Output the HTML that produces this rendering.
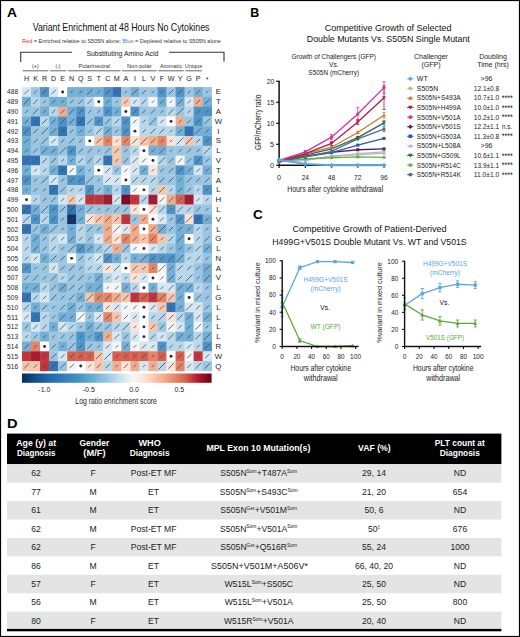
<!DOCTYPE html>
<html><head><meta charset="utf-8"><title>Figure</title>
<style>html,body{margin:0;padding:0;background:#fff;}svg{display:block;}</style></head>
<body><svg width="520" height="637" viewBox="0 0 520 637" font-family='"Liberation Sans", sans-serif'><rect x="0" y="0" width="520" height="637" fill="#fff"/>
<text x="7.0" y="16.9" font-size="13" font-weight="bold" textLength="10.0" lengthAdjust="spacingAndGlyphs" fill="#000">A</text>
<text x="250.3" y="17.3" font-size="12.2" font-weight="bold" textLength="9.0" lengthAdjust="spacingAndGlyphs" fill="#000">B</text>
<text x="253.0" y="219.0" font-size="12.2" font-weight="bold" textLength="9.8" lengthAdjust="spacingAndGlyphs" fill="#000">C</text>
<text x="7.0" y="428.4" font-size="12.2" font-weight="bold" textLength="10.6" lengthAdjust="spacingAndGlyphs" fill="#000">D</text>
<g>
<rect x="22.00" y="87.10" width="9.33" height="10.09" fill="#d6e7f2"/>
<rect x="31.03" y="87.10" width="9.33" height="10.09" fill="#9ac6e1"/>
<rect x="40.07" y="87.10" width="9.33" height="10.09" fill="#4f93c7"/>
<rect x="49.10" y="87.10" width="9.33" height="10.09" fill="#d6e7f2"/>
<rect x="58.13" y="87.10" width="9.33" height="10.09" fill="#ffffff"/>
<rect x="67.16" y="87.10" width="9.33" height="10.09" fill="#74afd6"/>
<rect x="76.20" y="87.10" width="9.33" height="10.09" fill="#74afd6"/>
<rect x="85.23" y="87.10" width="9.33" height="10.09" fill="#74afd6"/>
<rect x="94.26" y="87.10" width="9.33" height="10.09" fill="#74afd6"/>
<rect x="103.30" y="87.10" width="9.33" height="10.09" fill="#4f93c7"/>
<rect x="112.33" y="87.10" width="9.33" height="10.09" fill="#3474b5"/>
<rect x="121.36" y="87.10" width="9.33" height="10.09" fill="#9ac6e1"/>
<rect x="130.40" y="87.10" width="9.33" height="10.09" fill="#74afd6"/>
<rect x="139.43" y="87.10" width="9.33" height="10.09" fill="#9ac6e1"/>
<rect x="148.46" y="87.10" width="9.33" height="10.09" fill="#9ac6e1"/>
<rect x="157.50" y="87.10" width="9.33" height="10.09" fill="#4f93c7"/>
<rect x="166.53" y="87.10" width="9.33" height="10.09" fill="#9ac6e1"/>
<rect x="175.56" y="87.10" width="9.33" height="10.09" fill="#4f93c7"/>
<rect x="184.59" y="87.10" width="9.33" height="10.09" fill="#9ac6e1"/>
<rect x="193.63" y="87.10" width="9.33" height="10.09" fill="#74afd6"/>
<rect x="202.66" y="87.10" width="9.33" height="10.09" fill="#9ac6e1"/>
<rect x="22.00" y="96.89" width="9.33" height="10.09" fill="#74afd6"/>
<rect x="31.03" y="96.89" width="9.33" height="10.09" fill="#b9d7ea"/>
<rect x="40.07" y="96.89" width="9.33" height="10.09" fill="#9ac6e1"/>
<rect x="49.10" y="96.89" width="9.33" height="10.09" fill="#74afd6"/>
<rect x="58.13" y="96.89" width="9.33" height="10.09" fill="#74afd6"/>
<rect x="67.16" y="96.89" width="9.33" height="10.09" fill="#9ac6e1"/>
<rect x="76.20" y="96.89" width="9.33" height="10.09" fill="#9ac6e1"/>
<rect x="85.23" y="96.89" width="9.33" height="10.09" fill="#b9d7ea"/>
<rect x="94.26" y="96.89" width="9.33" height="10.09" fill="#ffffff"/>
<rect x="103.30" y="96.89" width="9.33" height="10.09" fill="#74afd6"/>
<rect x="112.33" y="96.89" width="9.33" height="10.09" fill="#9ac6e1"/>
<rect x="121.36" y="96.89" width="9.33" height="10.09" fill="#f5c6ae"/>
<rect x="130.40" y="96.89" width="9.33" height="10.09" fill="#d6e7f2"/>
<rect x="139.43" y="96.89" width="9.33" height="10.09" fill="#b9d7ea"/>
<rect x="148.46" y="96.89" width="9.33" height="10.09" fill="#f3f5f6"/>
<rect x="157.50" y="96.89" width="9.33" height="10.09" fill="#74afd6"/>
<rect x="166.53" y="96.89" width="9.33" height="10.09" fill="#f3f5f6"/>
<rect x="175.56" y="96.89" width="9.33" height="10.09" fill="#74afd6"/>
<rect x="184.59" y="96.89" width="9.33" height="10.09" fill="#d6e7f2"/>
<rect x="193.63" y="96.89" width="9.33" height="10.09" fill="#f0ad8e"/>
<rect x="202.66" y="96.89" width="9.33" height="10.09" fill="#74afd6"/>
<rect x="22.00" y="106.67" width="9.33" height="10.09" fill="#9ac6e1"/>
<rect x="31.03" y="106.67" width="9.33" height="10.09" fill="#9ac6e1"/>
<rect x="40.07" y="106.67" width="9.33" height="10.09" fill="#74afd6"/>
<rect x="49.10" y="106.67" width="9.33" height="10.09" fill="#b9d7ea"/>
<rect x="58.13" y="106.67" width="9.33" height="10.09" fill="#f0ad8e"/>
<rect x="67.16" y="106.67" width="9.33" height="10.09" fill="#74afd6"/>
<rect x="76.20" y="106.67" width="9.33" height="10.09" fill="#4f93c7"/>
<rect x="85.23" y="106.67" width="9.33" height="10.09" fill="#9ac6e1"/>
<rect x="94.26" y="106.67" width="9.33" height="10.09" fill="#9ac6e1"/>
<rect x="103.30" y="106.67" width="9.33" height="10.09" fill="#4f93c7"/>
<rect x="112.33" y="106.67" width="9.33" height="10.09" fill="#74afd6"/>
<rect x="121.36" y="106.67" width="9.33" height="10.09" fill="#ffffff"/>
<rect x="130.40" y="106.67" width="9.33" height="10.09" fill="#4f93c7"/>
<rect x="139.43" y="106.67" width="9.33" height="10.09" fill="#9ac6e1"/>
<rect x="148.46" y="106.67" width="9.33" height="10.09" fill="#9ac6e1"/>
<rect x="157.50" y="106.67" width="9.33" height="10.09" fill="#9ac6e1"/>
<rect x="166.53" y="106.67" width="9.33" height="10.09" fill="#b9d7ea"/>
<rect x="175.56" y="106.67" width="9.33" height="10.09" fill="#9ac6e1"/>
<rect x="184.59" y="106.67" width="9.33" height="10.09" fill="#b9d7ea"/>
<rect x="193.63" y="106.67" width="9.33" height="10.09" fill="#4f93c7"/>
<rect x="202.66" y="106.67" width="9.33" height="10.09" fill="#4f93c7"/>
<rect x="22.00" y="116.46" width="9.33" height="10.09" fill="#74afd6"/>
<rect x="31.03" y="116.46" width="9.33" height="10.09" fill="#3474b5"/>
<rect x="40.07" y="116.46" width="9.33" height="10.09" fill="#b9d7ea"/>
<rect x="49.10" y="116.46" width="9.33" height="10.09" fill="#74afd6"/>
<rect x="58.13" y="116.46" width="9.33" height="10.09" fill="#4f93c7"/>
<rect x="67.16" y="116.46" width="9.33" height="10.09" fill="#74afd6"/>
<rect x="76.20" y="116.46" width="9.33" height="10.09" fill="#3474b5"/>
<rect x="85.23" y="116.46" width="9.33" height="10.09" fill="#9ac6e1"/>
<rect x="94.26" y="116.46" width="9.33" height="10.09" fill="#4f93c7"/>
<rect x="103.30" y="116.46" width="9.33" height="10.09" fill="#9ac6e1"/>
<rect x="112.33" y="116.46" width="9.33" height="10.09" fill="#b9d7ea"/>
<rect x="121.36" y="116.46" width="9.33" height="10.09" fill="#4f93c7"/>
<rect x="130.40" y="116.46" width="9.33" height="10.09" fill="#f3f5f6"/>
<rect x="139.43" y="116.46" width="9.33" height="10.09" fill="#b9d7ea"/>
<rect x="148.46" y="116.46" width="9.33" height="10.09" fill="#9ac6e1"/>
<rect x="157.50" y="116.46" width="9.33" height="10.09" fill="#d6e7f2"/>
<rect x="166.53" y="116.46" width="9.33" height="10.09" fill="#ffffff"/>
<rect x="175.56" y="116.46" width="9.33" height="10.09" fill="#f0ad8e"/>
<rect x="184.59" y="116.46" width="9.33" height="10.09" fill="#9ac6e1"/>
<rect x="193.63" y="116.46" width="9.33" height="10.09" fill="#4f93c7"/>
<rect x="202.66" y="116.46" width="9.33" height="10.09" fill="#9ac6e1"/>
<rect x="22.00" y="126.24" width="9.33" height="10.09" fill="#4f93c7"/>
<rect x="31.03" y="126.24" width="9.33" height="10.09" fill="#9ac6e1"/>
<rect x="40.07" y="126.24" width="9.33" height="10.09" fill="#9ac6e1"/>
<rect x="49.10" y="126.24" width="9.33" height="10.09" fill="#74afd6"/>
<rect x="58.13" y="126.24" width="9.33" height="10.09" fill="#3474b5"/>
<rect x="67.16" y="126.24" width="9.33" height="10.09" fill="#9ac6e1"/>
<rect x="76.20" y="126.24" width="9.33" height="10.09" fill="#74afd6"/>
<rect x="85.23" y="126.24" width="9.33" height="10.09" fill="#9ac6e1"/>
<rect x="94.26" y="126.24" width="9.33" height="10.09" fill="#b9d7ea"/>
<rect x="103.30" y="126.24" width="9.33" height="10.09" fill="#74afd6"/>
<rect x="112.33" y="126.24" width="9.33" height="10.09" fill="#9ac6e1"/>
<rect x="121.36" y="126.24" width="9.33" height="10.09" fill="#4f93c7"/>
<rect x="130.40" y="126.24" width="9.33" height="10.09" fill="#ffffff"/>
<rect x="139.43" y="126.24" width="9.33" height="10.09" fill="#b9d7ea"/>
<rect x="148.46" y="126.24" width="9.33" height="10.09" fill="#b9d7ea"/>
<rect x="157.50" y="126.24" width="9.33" height="10.09" fill="#b9d7ea"/>
<rect x="166.53" y="126.24" width="9.33" height="10.09" fill="#b9d7ea"/>
<rect x="175.56" y="126.24" width="9.33" height="10.09" fill="#74afd6"/>
<rect x="184.59" y="126.24" width="9.33" height="10.09" fill="#3474b5"/>
<rect x="193.63" y="126.24" width="9.33" height="10.09" fill="#74afd6"/>
<rect x="202.66" y="126.24" width="9.33" height="10.09" fill="#74afd6"/>
<rect x="22.00" y="136.03" width="9.33" height="10.09" fill="#74afd6"/>
<rect x="31.03" y="136.03" width="9.33" height="10.09" fill="#9ac6e1"/>
<rect x="40.07" y="136.03" width="9.33" height="10.09" fill="#9ac6e1"/>
<rect x="49.10" y="136.03" width="9.33" height="10.09" fill="#d6e7f2"/>
<rect x="58.13" y="136.03" width="9.33" height="10.09" fill="#9ac6e1"/>
<rect x="67.16" y="136.03" width="9.33" height="10.09" fill="#9ac6e1"/>
<rect x="76.20" y="136.03" width="9.33" height="10.09" fill="#9ac6e1"/>
<rect x="85.23" y="136.03" width="9.33" height="10.09" fill="#ffffff"/>
<rect x="94.26" y="136.03" width="9.33" height="10.09" fill="#f5c6ae"/>
<rect x="103.30" y="136.03" width="9.33" height="10.09" fill="#e48468"/>
<rect x="112.33" y="136.03" width="9.33" height="10.09" fill="#fbe3d7"/>
<rect x="121.36" y="136.03" width="9.33" height="10.09" fill="#e48468"/>
<rect x="130.40" y="136.03" width="9.33" height="10.09" fill="#fbe3d7"/>
<rect x="139.43" y="136.03" width="9.33" height="10.09" fill="#f5c6ae"/>
<rect x="148.46" y="136.03" width="9.33" height="10.09" fill="#f0ad8e"/>
<rect x="157.50" y="136.03" width="9.33" height="10.09" fill="#e48468"/>
<rect x="166.53" y="136.03" width="9.33" height="10.09" fill="#fbe3d7"/>
<rect x="175.56" y="136.03" width="9.33" height="10.09" fill="#d6e7f2"/>
<rect x="184.59" y="136.03" width="9.33" height="10.09" fill="#f5c6ae"/>
<rect x="193.63" y="136.03" width="9.33" height="10.09" fill="#b9d7ea"/>
<rect x="202.66" y="136.03" width="9.33" height="10.09" fill="#4f93c7"/>
<rect x="22.00" y="145.82" width="9.33" height="10.09" fill="#74afd6"/>
<rect x="31.03" y="145.82" width="9.33" height="10.09" fill="#9ac6e1"/>
<rect x="40.07" y="145.82" width="9.33" height="10.09" fill="#74afd6"/>
<rect x="49.10" y="145.82" width="9.33" height="10.09" fill="#74afd6"/>
<rect x="58.13" y="145.82" width="9.33" height="10.09" fill="#9ac6e1"/>
<rect x="67.16" y="145.82" width="9.33" height="10.09" fill="#4f93c7"/>
<rect x="76.20" y="145.82" width="9.33" height="10.09" fill="#9ac6e1"/>
<rect x="85.23" y="145.82" width="9.33" height="10.09" fill="#9ac6e1"/>
<rect x="94.26" y="145.82" width="9.33" height="10.09" fill="#9ac6e1"/>
<rect x="103.30" y="145.82" width="9.33" height="10.09" fill="#9ac6e1"/>
<rect x="112.33" y="145.82" width="9.33" height="10.09" fill="#f5c6ae"/>
<rect x="121.36" y="145.82" width="9.33" height="10.09" fill="#9ac6e1"/>
<rect x="130.40" y="145.82" width="9.33" height="10.09" fill="#b9d7ea"/>
<rect x="139.43" y="145.82" width="9.33" height="10.09" fill="#ffffff"/>
<rect x="148.46" y="145.82" width="9.33" height="10.09" fill="#74afd6"/>
<rect x="157.50" y="145.82" width="9.33" height="10.09" fill="#74afd6"/>
<rect x="166.53" y="145.82" width="9.33" height="10.09" fill="#9ac6e1"/>
<rect x="175.56" y="145.82" width="9.33" height="10.09" fill="#9ac6e1"/>
<rect x="184.59" y="145.82" width="9.33" height="10.09" fill="#9ac6e1"/>
<rect x="193.63" y="145.82" width="9.33" height="10.09" fill="#9ac6e1"/>
<rect x="202.66" y="145.82" width="9.33" height="10.09" fill="#b9d7ea"/>
<rect x="22.00" y="155.60" width="9.33" height="10.09" fill="#3474b5"/>
<rect x="31.03" y="155.60" width="9.33" height="10.09" fill="#3474b5"/>
<rect x="40.07" y="155.60" width="9.33" height="10.09" fill="#b9d7ea"/>
<rect x="49.10" y="155.60" width="9.33" height="10.09" fill="#9ac6e1"/>
<rect x="58.13" y="155.60" width="9.33" height="10.09" fill="#b9d7ea"/>
<rect x="67.16" y="155.60" width="9.33" height="10.09" fill="#74afd6"/>
<rect x="76.20" y="155.60" width="9.33" height="10.09" fill="#b9d7ea"/>
<rect x="85.23" y="155.60" width="9.33" height="10.09" fill="#9ac6e1"/>
<rect x="94.26" y="155.60" width="9.33" height="10.09" fill="#b9d7ea"/>
<rect x="103.30" y="155.60" width="9.33" height="10.09" fill="#3474b5"/>
<rect x="112.33" y="155.60" width="9.33" height="10.09" fill="#f5c6ae"/>
<rect x="121.36" y="155.60" width="9.33" height="10.09" fill="#9ac6e1"/>
<rect x="130.40" y="155.60" width="9.33" height="10.09" fill="#d6e7f2"/>
<rect x="139.43" y="155.60" width="9.33" height="10.09" fill="#f3f5f6"/>
<rect x="148.46" y="155.60" width="9.33" height="10.09" fill="#ffffff"/>
<rect x="157.50" y="155.60" width="9.33" height="10.09" fill="#b9d7ea"/>
<rect x="166.53" y="155.60" width="9.33" height="10.09" fill="#9ac6e1"/>
<rect x="175.56" y="155.60" width="9.33" height="10.09" fill="#f3f5f6"/>
<rect x="184.59" y="155.60" width="9.33" height="10.09" fill="#9ac6e1"/>
<rect x="193.63" y="155.60" width="9.33" height="10.09" fill="#4f93c7"/>
<rect x="202.66" y="155.60" width="9.33" height="10.09" fill="#9ac6e1"/>
<rect x="22.00" y="165.39" width="9.33" height="10.09" fill="#74afd6"/>
<rect x="31.03" y="165.39" width="9.33" height="10.09" fill="#d6e7f2"/>
<rect x="40.07" y="165.39" width="9.33" height="10.09" fill="#b9d7ea"/>
<rect x="49.10" y="165.39" width="9.33" height="10.09" fill="#74afd6"/>
<rect x="58.13" y="165.39" width="9.33" height="10.09" fill="#3474b5"/>
<rect x="67.16" y="165.39" width="9.33" height="10.09" fill="#f3f5f6"/>
<rect x="76.20" y="165.39" width="9.33" height="10.09" fill="#74afd6"/>
<rect x="85.23" y="165.39" width="9.33" height="10.09" fill="#9ac6e1"/>
<rect x="94.26" y="165.39" width="9.33" height="10.09" fill="#ffffff"/>
<rect x="103.30" y="165.39" width="9.33" height="10.09" fill="#d6e7f2"/>
<rect x="112.33" y="165.39" width="9.33" height="10.09" fill="#9ac6e1"/>
<rect x="121.36" y="165.39" width="9.33" height="10.09" fill="#f3f5f6"/>
<rect x="130.40" y="165.39" width="9.33" height="10.09" fill="#d6e7f2"/>
<rect x="139.43" y="165.39" width="9.33" height="10.09" fill="#74afd6"/>
<rect x="148.46" y="165.39" width="9.33" height="10.09" fill="#fbe3d7"/>
<rect x="157.50" y="165.39" width="9.33" height="10.09" fill="#9ac6e1"/>
<rect x="166.53" y="165.39" width="9.33" height="10.09" fill="#9ac6e1"/>
<rect x="175.56" y="165.39" width="9.33" height="10.09" fill="#4f93c7"/>
<rect x="184.59" y="165.39" width="9.33" height="10.09" fill="#74afd6"/>
<rect x="193.63" y="165.39" width="9.33" height="10.09" fill="#d6e7f2"/>
<rect x="202.66" y="165.39" width="9.33" height="10.09" fill="#74afd6"/>
<rect x="22.00" y="175.17" width="9.33" height="10.09" fill="#4f93c7"/>
<rect x="31.03" y="175.17" width="9.33" height="10.09" fill="#9ac6e1"/>
<rect x="40.07" y="175.17" width="9.33" height="10.09" fill="#9ac6e1"/>
<rect x="49.10" y="175.17" width="9.33" height="10.09" fill="#d6e7f2"/>
<rect x="58.13" y="175.17" width="9.33" height="10.09" fill="#9ac6e1"/>
<rect x="67.16" y="175.17" width="9.33" height="10.09" fill="#4f93c7"/>
<rect x="76.20" y="175.17" width="9.33" height="10.09" fill="#4f93c7"/>
<rect x="85.23" y="175.17" width="9.33" height="10.09" fill="#9ac6e1"/>
<rect x="94.26" y="175.17" width="9.33" height="10.09" fill="#9ac6e1"/>
<rect x="103.30" y="175.17" width="9.33" height="10.09" fill="#d6e7f2"/>
<rect x="112.33" y="175.17" width="9.33" height="10.09" fill="#d6e7f2"/>
<rect x="121.36" y="175.17" width="9.33" height="10.09" fill="#ffffff"/>
<rect x="130.40" y="175.17" width="9.33" height="10.09" fill="#b9d7ea"/>
<rect x="139.43" y="175.17" width="9.33" height="10.09" fill="#b9d7ea"/>
<rect x="148.46" y="175.17" width="9.33" height="10.09" fill="#b9d7ea"/>
<rect x="157.50" y="175.17" width="9.33" height="10.09" fill="#9ac6e1"/>
<rect x="166.53" y="175.17" width="9.33" height="10.09" fill="#9ac6e1"/>
<rect x="175.56" y="175.17" width="9.33" height="10.09" fill="#74afd6"/>
<rect x="184.59" y="175.17" width="9.33" height="10.09" fill="#9ac6e1"/>
<rect x="193.63" y="175.17" width="9.33" height="10.09" fill="#9ac6e1"/>
<rect x="202.66" y="175.17" width="9.33" height="10.09" fill="#9ac6e1"/>
<rect x="22.00" y="184.96" width="9.33" height="10.09" fill="#74afd6"/>
<rect x="31.03" y="184.96" width="9.33" height="10.09" fill="#9ac6e1"/>
<rect x="40.07" y="184.96" width="9.33" height="10.09" fill="#9ac6e1"/>
<rect x="49.10" y="184.96" width="9.33" height="10.09" fill="#3474b5"/>
<rect x="58.13" y="184.96" width="9.33" height="10.09" fill="#9ac6e1"/>
<rect x="67.16" y="184.96" width="9.33" height="10.09" fill="#b9d7ea"/>
<rect x="76.20" y="184.96" width="9.33" height="10.09" fill="#b9d7ea"/>
<rect x="85.23" y="184.96" width="9.33" height="10.09" fill="#4f93c7"/>
<rect x="94.26" y="184.96" width="9.33" height="10.09" fill="#9ac6e1"/>
<rect x="103.30" y="184.96" width="9.33" height="10.09" fill="#74afd6"/>
<rect x="112.33" y="184.96" width="9.33" height="10.09" fill="#b9d7ea"/>
<rect x="121.36" y="184.96" width="9.33" height="10.09" fill="#4f93c7"/>
<rect x="130.40" y="184.96" width="9.33" height="10.09" fill="#f3f5f6"/>
<rect x="139.43" y="184.96" width="9.33" height="10.09" fill="#ffffff"/>
<rect x="148.46" y="184.96" width="9.33" height="10.09" fill="#b9d7ea"/>
<rect x="157.50" y="184.96" width="9.33" height="10.09" fill="#f5c6ae"/>
<rect x="166.53" y="184.96" width="9.33" height="10.09" fill="#b9d7ea"/>
<rect x="175.56" y="184.96" width="9.33" height="10.09" fill="#74afd6"/>
<rect x="184.59" y="184.96" width="9.33" height="10.09" fill="#9ac6e1"/>
<rect x="193.63" y="184.96" width="9.33" height="10.09" fill="#b9d7ea"/>
<rect x="202.66" y="184.96" width="9.33" height="10.09" fill="#4f93c7"/>
<rect x="22.00" y="194.75" width="9.33" height="10.09" fill="#ffffff"/>
<rect x="31.03" y="194.75" width="9.33" height="10.09" fill="#b9d7ea"/>
<rect x="40.07" y="194.75" width="9.33" height="10.09" fill="#9ac6e1"/>
<rect x="49.10" y="194.75" width="9.33" height="10.09" fill="#9ac6e1"/>
<rect x="58.13" y="194.75" width="9.33" height="10.09" fill="#d6e7f2"/>
<rect x="67.16" y="194.75" width="9.33" height="10.09" fill="#f5c6ae"/>
<rect x="76.20" y="194.75" width="9.33" height="10.09" fill="#d6e7f2"/>
<rect x="85.23" y="194.75" width="9.33" height="10.09" fill="#c3343c"/>
<rect x="94.26" y="194.75" width="9.33" height="10.09" fill="#c3343c"/>
<rect x="103.30" y="194.75" width="9.33" height="10.09" fill="#a81a31"/>
<rect x="112.33" y="194.75" width="9.33" height="10.09" fill="#d6e7f2"/>
<rect x="121.36" y="194.75" width="9.33" height="10.09" fill="#7f0b23"/>
<rect x="130.40" y="194.75" width="9.33" height="10.09" fill="#c3343c"/>
<rect x="139.43" y="194.75" width="9.33" height="10.09" fill="#b9d7ea"/>
<rect x="148.46" y="194.75" width="9.33" height="10.09" fill="#a81a31"/>
<rect x="157.50" y="194.75" width="9.33" height="10.09" fill="#f3f5f6"/>
<rect x="166.53" y="194.75" width="9.33" height="10.09" fill="#f0ad8e"/>
<rect x="175.56" y="194.75" width="9.33" height="10.09" fill="#d6604d"/>
<rect x="184.59" y="194.75" width="9.33" height="10.09" fill="#a81a31"/>
<rect x="193.63" y="194.75" width="9.33" height="10.09" fill="#d6e7f2"/>
<rect x="202.66" y="194.75" width="9.33" height="10.09" fill="#b9d7ea"/>
<rect x="22.00" y="204.53" width="9.33" height="10.09" fill="#3474b5"/>
<rect x="31.03" y="204.53" width="9.33" height="10.09" fill="#74afd6"/>
<rect x="40.07" y="204.53" width="9.33" height="10.09" fill="#9ac6e1"/>
<rect x="49.10" y="204.53" width="9.33" height="10.09" fill="#4f93c7"/>
<rect x="58.13" y="204.53" width="9.33" height="10.09" fill="#9ac6e1"/>
<rect x="67.16" y="204.53" width="9.33" height="10.09" fill="#3474b5"/>
<rect x="76.20" y="204.53" width="9.33" height="10.09" fill="#74afd6"/>
<rect x="85.23" y="204.53" width="9.33" height="10.09" fill="#9ac6e1"/>
<rect x="94.26" y="204.53" width="9.33" height="10.09" fill="#9ac6e1"/>
<rect x="103.30" y="204.53" width="9.33" height="10.09" fill="#9ac6e1"/>
<rect x="112.33" y="204.53" width="9.33" height="10.09" fill="#9ac6e1"/>
<rect x="121.36" y="204.53" width="9.33" height="10.09" fill="#9ac6e1"/>
<rect x="130.40" y="204.53" width="9.33" height="10.09" fill="#fbe3d7"/>
<rect x="139.43" y="204.53" width="9.33" height="10.09" fill="#ffffff"/>
<rect x="148.46" y="204.53" width="9.33" height="10.09" fill="#fbe3d7"/>
<rect x="157.50" y="204.53" width="9.33" height="10.09" fill="#b9d7ea"/>
<rect x="166.53" y="204.53" width="9.33" height="10.09" fill="#4f93c7"/>
<rect x="175.56" y="204.53" width="9.33" height="10.09" fill="#b9d7ea"/>
<rect x="184.59" y="204.53" width="9.33" height="10.09" fill="#b9d7ea"/>
<rect x="193.63" y="204.53" width="9.33" height="10.09" fill="#9ac6e1"/>
<rect x="202.66" y="204.53" width="9.33" height="10.09" fill="#9ac6e1"/>
<rect x="22.00" y="214.32" width="9.33" height="10.09" fill="#b9d7ea"/>
<rect x="31.03" y="214.32" width="9.33" height="10.09" fill="#4f93c7"/>
<rect x="40.07" y="214.32" width="9.33" height="10.09" fill="#b9d7ea"/>
<rect x="49.10" y="214.32" width="9.33" height="10.09" fill="#4f93c7"/>
<rect x="58.13" y="214.32" width="9.33" height="10.09" fill="#9ac6e1"/>
<rect x="67.16" y="214.32" width="9.33" height="10.09" fill="#12306a"/>
<rect x="76.20" y="214.32" width="9.33" height="10.09" fill="#74afd6"/>
<rect x="85.23" y="214.32" width="9.33" height="10.09" fill="#fbe3d7"/>
<rect x="94.26" y="214.32" width="9.33" height="10.09" fill="#f5c6ae"/>
<rect x="103.30" y="214.32" width="9.33" height="10.09" fill="#f0ad8e"/>
<rect x="112.33" y="214.32" width="9.33" height="10.09" fill="#f5c6ae"/>
<rect x="121.36" y="214.32" width="9.33" height="10.09" fill="#c3343c"/>
<rect x="130.40" y="214.32" width="9.33" height="10.09" fill="#9ac6e1"/>
<rect x="139.43" y="214.32" width="9.33" height="10.09" fill="#f0ad8e"/>
<rect x="148.46" y="214.32" width="9.33" height="10.09" fill="#ffffff"/>
<rect x="157.50" y="214.32" width="9.33" height="10.09" fill="#d6e7f2"/>
<rect x="166.53" y="214.32" width="9.33" height="10.09" fill="#9ac6e1"/>
<rect x="175.56" y="214.32" width="9.33" height="10.09" fill="#4f93c7"/>
<rect x="184.59" y="214.32" width="9.33" height="10.09" fill="#fbe3d7"/>
<rect x="193.63" y="214.32" width="9.33" height="10.09" fill="#3474b5"/>
<rect x="202.66" y="214.32" width="9.33" height="10.09" fill="#74afd6"/>
<rect x="22.00" y="224.10" width="9.33" height="10.09" fill="#3474b5"/>
<rect x="31.03" y="224.10" width="9.33" height="10.09" fill="#9ac6e1"/>
<rect x="40.07" y="224.10" width="9.33" height="10.09" fill="#74afd6"/>
<rect x="49.10" y="224.10" width="9.33" height="10.09" fill="#9ac6e1"/>
<rect x="58.13" y="224.10" width="9.33" height="10.09" fill="#9ac6e1"/>
<rect x="67.16" y="224.10" width="9.33" height="10.09" fill="#74afd6"/>
<rect x="76.20" y="224.10" width="9.33" height="10.09" fill="#b9d7ea"/>
<rect x="85.23" y="224.10" width="9.33" height="10.09" fill="#9ac6e1"/>
<rect x="94.26" y="224.10" width="9.33" height="10.09" fill="#9ac6e1"/>
<rect x="103.30" y="224.10" width="9.33" height="10.09" fill="#f0ad8e"/>
<rect x="112.33" y="224.10" width="9.33" height="10.09" fill="#f3f5f6"/>
<rect x="121.36" y="224.10" width="9.33" height="10.09" fill="#d6e7f2"/>
<rect x="130.40" y="224.10" width="9.33" height="10.09" fill="#f0ad8e"/>
<rect x="139.43" y="224.10" width="9.33" height="10.09" fill="#ffffff"/>
<rect x="148.46" y="224.10" width="9.33" height="10.09" fill="#f0ad8e"/>
<rect x="157.50" y="224.10" width="9.33" height="10.09" fill="#74afd6"/>
<rect x="166.53" y="224.10" width="9.33" height="10.09" fill="#9ac6e1"/>
<rect x="175.56" y="224.10" width="9.33" height="10.09" fill="#74afd6"/>
<rect x="184.59" y="224.10" width="9.33" height="10.09" fill="#74afd6"/>
<rect x="193.63" y="224.10" width="9.33" height="10.09" fill="#b9d7ea"/>
<rect x="202.66" y="224.10" width="9.33" height="10.09" fill="#9ac6e1"/>
<rect x="22.00" y="233.89" width="9.33" height="10.09" fill="#b9d7ea"/>
<rect x="31.03" y="233.89" width="9.33" height="10.09" fill="#74afd6"/>
<rect x="40.07" y="233.89" width="9.33" height="10.09" fill="#9ac6e1"/>
<rect x="49.10" y="233.89" width="9.33" height="10.09" fill="#b9d7ea"/>
<rect x="58.13" y="233.89" width="9.33" height="10.09" fill="#d6e7f2"/>
<rect x="67.16" y="233.89" width="9.33" height="10.09" fill="#74afd6"/>
<rect x="76.20" y="233.89" width="9.33" height="10.09" fill="#b9d7ea"/>
<rect x="85.23" y="233.89" width="9.33" height="10.09" fill="#9ac6e1"/>
<rect x="94.26" y="233.89" width="9.33" height="10.09" fill="#d6e7f2"/>
<rect x="103.30" y="233.89" width="9.33" height="10.09" fill="#f0ad8e"/>
<rect x="112.33" y="233.89" width="9.33" height="10.09" fill="#fbe3d7"/>
<rect x="121.36" y="233.89" width="9.33" height="10.09" fill="#e48468"/>
<rect x="130.40" y="233.89" width="9.33" height="10.09" fill="#f0ad8e"/>
<rect x="139.43" y="233.89" width="9.33" height="10.09" fill="#f5c6ae"/>
<rect x="148.46" y="233.89" width="9.33" height="10.09" fill="#e48468"/>
<rect x="157.50" y="233.89" width="9.33" height="10.09" fill="#f5c6ae"/>
<rect x="166.53" y="233.89" width="9.33" height="10.09" fill="#b9d7ea"/>
<rect x="175.56" y="233.89" width="9.33" height="10.09" fill="#74afd6"/>
<rect x="184.59" y="233.89" width="9.33" height="10.09" fill="#ffffff"/>
<rect x="193.63" y="233.89" width="9.33" height="10.09" fill="#b9d7ea"/>
<rect x="202.66" y="233.89" width="9.33" height="10.09" fill="#9ac6e1"/>
<rect x="22.00" y="243.68" width="9.33" height="10.09" fill="#b9d7ea"/>
<rect x="31.03" y="243.68" width="9.33" height="10.09" fill="#74afd6"/>
<rect x="40.07" y="243.68" width="9.33" height="10.09" fill="#9ac6e1"/>
<rect x="49.10" y="243.68" width="9.33" height="10.09" fill="#b9d7ea"/>
<rect x="58.13" y="243.68" width="9.33" height="10.09" fill="#9ac6e1"/>
<rect x="67.16" y="243.68" width="9.33" height="10.09" fill="#9ac6e1"/>
<rect x="76.20" y="243.68" width="9.33" height="10.09" fill="#4f93c7"/>
<rect x="85.23" y="243.68" width="9.33" height="10.09" fill="#74afd6"/>
<rect x="94.26" y="243.68" width="9.33" height="10.09" fill="#9ac6e1"/>
<rect x="103.30" y="243.68" width="9.33" height="10.09" fill="#b9d7ea"/>
<rect x="112.33" y="243.68" width="9.33" height="10.09" fill="#f0ad8e"/>
<rect x="121.36" y="243.68" width="9.33" height="10.09" fill="#9ac6e1"/>
<rect x="130.40" y="243.68" width="9.33" height="10.09" fill="#f3f5f6"/>
<rect x="139.43" y="243.68" width="9.33" height="10.09" fill="#ffffff"/>
<rect x="148.46" y="243.68" width="9.33" height="10.09" fill="#d6e7f2"/>
<rect x="157.50" y="243.68" width="9.33" height="10.09" fill="#b9d7ea"/>
<rect x="166.53" y="243.68" width="9.33" height="10.09" fill="#9ac6e1"/>
<rect x="175.56" y="243.68" width="9.33" height="10.09" fill="#74afd6"/>
<rect x="184.59" y="243.68" width="9.33" height="10.09" fill="#9ac6e1"/>
<rect x="193.63" y="243.68" width="9.33" height="10.09" fill="#b9d7ea"/>
<rect x="202.66" y="243.68" width="9.33" height="10.09" fill="#74afd6"/>
<rect x="22.00" y="253.46" width="9.33" height="10.09" fill="#b9d7ea"/>
<rect x="31.03" y="253.46" width="9.33" height="10.09" fill="#d6e7f2"/>
<rect x="40.07" y="253.46" width="9.33" height="10.09" fill="#74afd6"/>
<rect x="49.10" y="253.46" width="9.33" height="10.09" fill="#9ac6e1"/>
<rect x="58.13" y="253.46" width="9.33" height="10.09" fill="#9ac6e1"/>
<rect x="67.16" y="253.46" width="9.33" height="10.09" fill="#ffffff"/>
<rect x="76.20" y="253.46" width="9.33" height="10.09" fill="#9ac6e1"/>
<rect x="85.23" y="253.46" width="9.33" height="10.09" fill="#b9d7ea"/>
<rect x="94.26" y="253.46" width="9.33" height="10.09" fill="#d6e7f2"/>
<rect x="103.30" y="253.46" width="9.33" height="10.09" fill="#4f93c7"/>
<rect x="112.33" y="253.46" width="9.33" height="10.09" fill="#74afd6"/>
<rect x="121.36" y="253.46" width="9.33" height="10.09" fill="#b9d7ea"/>
<rect x="130.40" y="253.46" width="9.33" height="10.09" fill="#74afd6"/>
<rect x="139.43" y="253.46" width="9.33" height="10.09" fill="#74afd6"/>
<rect x="148.46" y="253.46" width="9.33" height="10.09" fill="#4f93c7"/>
<rect x="157.50" y="253.46" width="9.33" height="10.09" fill="#4f93c7"/>
<rect x="166.53" y="253.46" width="9.33" height="10.09" fill="#4f93c7"/>
<rect x="175.56" y="253.46" width="9.33" height="10.09" fill="#74afd6"/>
<rect x="184.59" y="253.46" width="9.33" height="10.09" fill="#b9d7ea"/>
<rect x="193.63" y="253.46" width="9.33" height="10.09" fill="#b9d7ea"/>
<rect x="202.66" y="253.46" width="9.33" height="10.09" fill="#9ac6e1"/>
<rect x="22.00" y="263.25" width="9.33" height="10.09" fill="#4f93c7"/>
<rect x="31.03" y="263.25" width="9.33" height="10.09" fill="#9ac6e1"/>
<rect x="40.07" y="263.25" width="9.33" height="10.09" fill="#9ac6e1"/>
<rect x="49.10" y="263.25" width="9.33" height="10.09" fill="#d6e7f2"/>
<rect x="58.13" y="263.25" width="9.33" height="10.09" fill="#9ac6e1"/>
<rect x="67.16" y="263.25" width="9.33" height="10.09" fill="#9ac6e1"/>
<rect x="76.20" y="263.25" width="9.33" height="10.09" fill="#9ac6e1"/>
<rect x="85.23" y="263.25" width="9.33" height="10.09" fill="#b9d7ea"/>
<rect x="94.26" y="263.25" width="9.33" height="10.09" fill="#b9d7ea"/>
<rect x="103.30" y="263.25" width="9.33" height="10.09" fill="#fbe3d7"/>
<rect x="112.33" y="263.25" width="9.33" height="10.09" fill="#d6e7f2"/>
<rect x="121.36" y="263.25" width="9.33" height="10.09" fill="#ffffff"/>
<rect x="130.40" y="263.25" width="9.33" height="10.09" fill="#f5c6ae"/>
<rect x="139.43" y="263.25" width="9.33" height="10.09" fill="#f5c6ae"/>
<rect x="148.46" y="263.25" width="9.33" height="10.09" fill="#e48468"/>
<rect x="157.50" y="263.25" width="9.33" height="10.09" fill="#f3f5f6"/>
<rect x="166.53" y="263.25" width="9.33" height="10.09" fill="#74afd6"/>
<rect x="175.56" y="263.25" width="9.33" height="10.09" fill="#b9d7ea"/>
<rect x="184.59" y="263.25" width="9.33" height="10.09" fill="#b9d7ea"/>
<rect x="193.63" y="263.25" width="9.33" height="10.09" fill="#9ac6e1"/>
<rect x="202.66" y="263.25" width="9.33" height="10.09" fill="#74afd6"/>
<rect x="22.00" y="273.03" width="9.33" height="10.09" fill="#9ac6e1"/>
<rect x="31.03" y="273.03" width="9.33" height="10.09" fill="#9ac6e1"/>
<rect x="40.07" y="273.03" width="9.33" height="10.09" fill="#9ac6e1"/>
<rect x="49.10" y="273.03" width="9.33" height="10.09" fill="#9ac6e1"/>
<rect x="58.13" y="273.03" width="9.33" height="10.09" fill="#b9d7ea"/>
<rect x="67.16" y="273.03" width="9.33" height="10.09" fill="#9ac6e1"/>
<rect x="76.20" y="273.03" width="9.33" height="10.09" fill="#9ac6e1"/>
<rect x="85.23" y="273.03" width="9.33" height="10.09" fill="#9ac6e1"/>
<rect x="94.26" y="273.03" width="9.33" height="10.09" fill="#74afd6"/>
<rect x="103.30" y="273.03" width="9.33" height="10.09" fill="#b9d7ea"/>
<rect x="112.33" y="273.03" width="9.33" height="10.09" fill="#d6e7f2"/>
<rect x="121.36" y="273.03" width="9.33" height="10.09" fill="#b9d7ea"/>
<rect x="130.40" y="273.03" width="9.33" height="10.09" fill="#fbe3d7"/>
<rect x="139.43" y="273.03" width="9.33" height="10.09" fill="#d6e7f2"/>
<rect x="148.46" y="273.03" width="9.33" height="10.09" fill="#ffffff"/>
<rect x="157.50" y="273.03" width="9.33" height="10.09" fill="#f3f5f6"/>
<rect x="166.53" y="273.03" width="9.33" height="10.09" fill="#74afd6"/>
<rect x="175.56" y="273.03" width="9.33" height="10.09" fill="#b9d7ea"/>
<rect x="184.59" y="273.03" width="9.33" height="10.09" fill="#b9d7ea"/>
<rect x="193.63" y="273.03" width="9.33" height="10.09" fill="#9ac6e1"/>
<rect x="202.66" y="273.03" width="9.33" height="10.09" fill="#74afd6"/>
<rect x="22.00" y="282.82" width="9.33" height="10.09" fill="#74afd6"/>
<rect x="31.03" y="282.82" width="9.33" height="10.09" fill="#74afd6"/>
<rect x="40.07" y="282.82" width="9.33" height="10.09" fill="#b9d7ea"/>
<rect x="49.10" y="282.82" width="9.33" height="10.09" fill="#9ac6e1"/>
<rect x="58.13" y="282.82" width="9.33" height="10.09" fill="#74afd6"/>
<rect x="67.16" y="282.82" width="9.33" height="10.09" fill="#9ac6e1"/>
<rect x="76.20" y="282.82" width="9.33" height="10.09" fill="#9ac6e1"/>
<rect x="85.23" y="282.82" width="9.33" height="10.09" fill="#74afd6"/>
<rect x="94.26" y="282.82" width="9.33" height="10.09" fill="#74afd6"/>
<rect x="103.30" y="282.82" width="9.33" height="10.09" fill="#f3f5f6"/>
<rect x="112.33" y="282.82" width="9.33" height="10.09" fill="#f3f5f6"/>
<rect x="121.36" y="282.82" width="9.33" height="10.09" fill="#74afd6"/>
<rect x="130.40" y="282.82" width="9.33" height="10.09" fill="#b9d7ea"/>
<rect x="139.43" y="282.82" width="9.33" height="10.09" fill="#ffffff"/>
<rect x="148.46" y="282.82" width="9.33" height="10.09" fill="#74afd6"/>
<rect x="157.50" y="282.82" width="9.33" height="10.09" fill="#d6e7f2"/>
<rect x="166.53" y="282.82" width="9.33" height="10.09" fill="#d6e7f2"/>
<rect x="175.56" y="282.82" width="9.33" height="10.09" fill="#74afd6"/>
<rect x="184.59" y="282.82" width="9.33" height="10.09" fill="#74afd6"/>
<rect x="193.63" y="282.82" width="9.33" height="10.09" fill="#b9d7ea"/>
<rect x="202.66" y="282.82" width="9.33" height="10.09" fill="#9ac6e1"/>
<rect x="22.00" y="292.61" width="9.33" height="10.09" fill="#3474b5"/>
<rect x="31.03" y="292.61" width="9.33" height="10.09" fill="#b9d7ea"/>
<rect x="40.07" y="292.61" width="9.33" height="10.09" fill="#d6e7f2"/>
<rect x="49.10" y="292.61" width="9.33" height="10.09" fill="#9ac6e1"/>
<rect x="58.13" y="292.61" width="9.33" height="10.09" fill="#9ac6e1"/>
<rect x="67.16" y="292.61" width="9.33" height="10.09" fill="#9ac6e1"/>
<rect x="76.20" y="292.61" width="9.33" height="10.09" fill="#74afd6"/>
<rect x="85.23" y="292.61" width="9.33" height="10.09" fill="#f5c6ae"/>
<rect x="94.26" y="292.61" width="9.33" height="10.09" fill="#e48468"/>
<rect x="103.30" y="292.61" width="9.33" height="10.09" fill="#e48468"/>
<rect x="112.33" y="292.61" width="9.33" height="10.09" fill="#f0ad8e"/>
<rect x="121.36" y="292.61" width="9.33" height="10.09" fill="#f5c6ae"/>
<rect x="130.40" y="292.61" width="9.33" height="10.09" fill="#c3343c"/>
<rect x="139.43" y="292.61" width="9.33" height="10.09" fill="#d6604d"/>
<rect x="148.46" y="292.61" width="9.33" height="10.09" fill="#c3343c"/>
<rect x="157.50" y="292.61" width="9.33" height="10.09" fill="#e48468"/>
<rect x="166.53" y="292.61" width="9.33" height="10.09" fill="#f5c6ae"/>
<rect x="175.56" y="292.61" width="9.33" height="10.09" fill="#74afd6"/>
<rect x="184.59" y="292.61" width="9.33" height="10.09" fill="#ffffff"/>
<rect x="193.63" y="292.61" width="9.33" height="10.09" fill="#9ac6e1"/>
<rect x="202.66" y="292.61" width="9.33" height="10.09" fill="#9ac6e1"/>
<rect x="22.00" y="302.39" width="9.33" height="10.09" fill="#b9d7ea"/>
<rect x="31.03" y="302.39" width="9.33" height="10.09" fill="#74afd6"/>
<rect x="40.07" y="302.39" width="9.33" height="10.09" fill="#9ac6e1"/>
<rect x="49.10" y="302.39" width="9.33" height="10.09" fill="#9ac6e1"/>
<rect x="58.13" y="302.39" width="9.33" height="10.09" fill="#9ac6e1"/>
<rect x="67.16" y="302.39" width="9.33" height="10.09" fill="#74afd6"/>
<rect x="76.20" y="302.39" width="9.33" height="10.09" fill="#9ac6e1"/>
<rect x="85.23" y="302.39" width="9.33" height="10.09" fill="#74afd6"/>
<rect x="94.26" y="302.39" width="9.33" height="10.09" fill="#74afd6"/>
<rect x="103.30" y="302.39" width="9.33" height="10.09" fill="#fbe3d7"/>
<rect x="112.33" y="302.39" width="9.33" height="10.09" fill="#d6e7f2"/>
<rect x="121.36" y="302.39" width="9.33" height="10.09" fill="#f3f5f6"/>
<rect x="130.40" y="302.39" width="9.33" height="10.09" fill="#f3f5f6"/>
<rect x="139.43" y="302.39" width="9.33" height="10.09" fill="#ffffff"/>
<rect x="148.46" y="302.39" width="9.33" height="10.09" fill="#d6e7f2"/>
<rect x="157.50" y="302.39" width="9.33" height="10.09" fill="#f5c6ae"/>
<rect x="166.53" y="302.39" width="9.33" height="10.09" fill="#3474b5"/>
<rect x="175.56" y="302.39" width="9.33" height="10.09" fill="#74afd6"/>
<rect x="184.59" y="302.39" width="9.33" height="10.09" fill="#d6e7f2"/>
<rect x="193.63" y="302.39" width="9.33" height="10.09" fill="#d6e7f2"/>
<rect x="202.66" y="302.39" width="9.33" height="10.09" fill="#9ac6e1"/>
<rect x="22.00" y="312.18" width="9.33" height="10.09" fill="#d6e7f2"/>
<rect x="31.03" y="312.18" width="9.33" height="10.09" fill="#3474b5"/>
<rect x="40.07" y="312.18" width="9.33" height="10.09" fill="#b9d7ea"/>
<rect x="49.10" y="312.18" width="9.33" height="10.09" fill="#9ac6e1"/>
<rect x="58.13" y="312.18" width="9.33" height="10.09" fill="#74afd6"/>
<rect x="67.16" y="312.18" width="9.33" height="10.09" fill="#74afd6"/>
<rect x="76.20" y="312.18" width="9.33" height="10.09" fill="#f3f5f6"/>
<rect x="85.23" y="312.18" width="9.33" height="10.09" fill="#9ac6e1"/>
<rect x="94.26" y="312.18" width="9.33" height="10.09" fill="#d6e7f2"/>
<rect x="103.30" y="312.18" width="9.33" height="10.09" fill="#e48468"/>
<rect x="112.33" y="312.18" width="9.33" height="10.09" fill="#f5c6ae"/>
<rect x="121.36" y="312.18" width="9.33" height="10.09" fill="#f3f5f6"/>
<rect x="130.40" y="312.18" width="9.33" height="10.09" fill="#d6e7f2"/>
<rect x="139.43" y="312.18" width="9.33" height="10.09" fill="#ffffff"/>
<rect x="148.46" y="312.18" width="9.33" height="10.09" fill="#b9d7ea"/>
<rect x="157.50" y="312.18" width="9.33" height="10.09" fill="#b9d7ea"/>
<rect x="166.53" y="312.18" width="9.33" height="10.09" fill="#fbe3d7"/>
<rect x="175.56" y="312.18" width="9.33" height="10.09" fill="#b9d7ea"/>
<rect x="184.59" y="312.18" width="9.33" height="10.09" fill="#74afd6"/>
<rect x="193.63" y="312.18" width="9.33" height="10.09" fill="#d6e7f2"/>
<rect x="202.66" y="312.18" width="9.33" height="10.09" fill="#74afd6"/>
<rect x="22.00" y="321.96" width="9.33" height="10.09" fill="#9ac6e1"/>
<rect x="31.03" y="321.96" width="9.33" height="10.09" fill="#d6e7f2"/>
<rect x="40.07" y="321.96" width="9.33" height="10.09" fill="#b9d7ea"/>
<rect x="49.10" y="321.96" width="9.33" height="10.09" fill="#74afd6"/>
<rect x="58.13" y="321.96" width="9.33" height="10.09" fill="#d6e7f2"/>
<rect x="67.16" y="321.96" width="9.33" height="10.09" fill="#b9d7ea"/>
<rect x="76.20" y="321.96" width="9.33" height="10.09" fill="#9ac6e1"/>
<rect x="85.23" y="321.96" width="9.33" height="10.09" fill="#74afd6"/>
<rect x="94.26" y="321.96" width="9.33" height="10.09" fill="#9ac6e1"/>
<rect x="103.30" y="321.96" width="9.33" height="10.09" fill="#9ac6e1"/>
<rect x="112.33" y="321.96" width="9.33" height="10.09" fill="#b9d7ea"/>
<rect x="121.36" y="321.96" width="9.33" height="10.09" fill="#b9d7ea"/>
<rect x="130.40" y="321.96" width="9.33" height="10.09" fill="#fbe3d7"/>
<rect x="139.43" y="321.96" width="9.33" height="10.09" fill="#ffffff"/>
<rect x="148.46" y="321.96" width="9.33" height="10.09" fill="#f5c6ae"/>
<rect x="157.50" y="321.96" width="9.33" height="10.09" fill="#9ac6e1"/>
<rect x="166.53" y="321.96" width="9.33" height="10.09" fill="#f3f5f6"/>
<rect x="175.56" y="321.96" width="9.33" height="10.09" fill="#d6e7f2"/>
<rect x="184.59" y="321.96" width="9.33" height="10.09" fill="#74afd6"/>
<rect x="193.63" y="321.96" width="9.33" height="10.09" fill="#f3f5f6"/>
<rect x="202.66" y="321.96" width="9.33" height="10.09" fill="#9ac6e1"/>
<rect x="22.00" y="331.75" width="9.33" height="10.09" fill="#b9d7ea"/>
<rect x="31.03" y="331.75" width="9.33" height="10.09" fill="#9ac6e1"/>
<rect x="40.07" y="331.75" width="9.33" height="10.09" fill="#74afd6"/>
<rect x="49.10" y="331.75" width="9.33" height="10.09" fill="#9ac6e1"/>
<rect x="58.13" y="331.75" width="9.33" height="10.09" fill="#9ac6e1"/>
<rect x="67.16" y="331.75" width="9.33" height="10.09" fill="#9ac6e1"/>
<rect x="76.20" y="331.75" width="9.33" height="10.09" fill="#4f93c7"/>
<rect x="85.23" y="331.75" width="9.33" height="10.09" fill="#74afd6"/>
<rect x="94.26" y="331.75" width="9.33" height="10.09" fill="#4f93c7"/>
<rect x="103.30" y="331.75" width="9.33" height="10.09" fill="#f0ad8e"/>
<rect x="112.33" y="331.75" width="9.33" height="10.09" fill="#d6e7f2"/>
<rect x="121.36" y="331.75" width="9.33" height="10.09" fill="#9ac6e1"/>
<rect x="130.40" y="331.75" width="9.33" height="10.09" fill="#d6e7f2"/>
<rect x="139.43" y="331.75" width="9.33" height="10.09" fill="#ffffff"/>
<rect x="148.46" y="331.75" width="9.33" height="10.09" fill="#b9d7ea"/>
<rect x="157.50" y="331.75" width="9.33" height="10.09" fill="#d6e7f2"/>
<rect x="166.53" y="331.75" width="9.33" height="10.09" fill="#b9d7ea"/>
<rect x="175.56" y="331.75" width="9.33" height="10.09" fill="#74afd6"/>
<rect x="184.59" y="331.75" width="9.33" height="10.09" fill="#74afd6"/>
<rect x="193.63" y="331.75" width="9.33" height="10.09" fill="#b9d7ea"/>
<rect x="202.66" y="331.75" width="9.33" height="10.09" fill="#74afd6"/>
<rect x="22.00" y="341.54" width="9.33" height="10.09" fill="#74afd6"/>
<rect x="31.03" y="341.54" width="9.33" height="10.09" fill="#e48468"/>
<rect x="40.07" y="341.54" width="9.33" height="10.09" fill="#ffffff"/>
<rect x="49.10" y="341.54" width="9.33" height="10.09" fill="#9ac6e1"/>
<rect x="58.13" y="341.54" width="9.33" height="10.09" fill="#74afd6"/>
<rect x="67.16" y="341.54" width="9.33" height="10.09" fill="#9ac6e1"/>
<rect x="76.20" y="341.54" width="9.33" height="10.09" fill="#4f93c7"/>
<rect x="85.23" y="341.54" width="9.33" height="10.09" fill="#9ac6e1"/>
<rect x="94.26" y="341.54" width="9.33" height="10.09" fill="#9ac6e1"/>
<rect x="103.30" y="341.54" width="9.33" height="10.09" fill="#d6e7f2"/>
<rect x="112.33" y="341.54" width="9.33" height="10.09" fill="#f3f5f6"/>
<rect x="121.36" y="341.54" width="9.33" height="10.09" fill="#74afd6"/>
<rect x="130.40" y="341.54" width="9.33" height="10.09" fill="#f3f5f6"/>
<rect x="139.43" y="341.54" width="9.33" height="10.09" fill="#d6e7f2"/>
<rect x="148.46" y="341.54" width="9.33" height="10.09" fill="#d6e7f2"/>
<rect x="157.50" y="341.54" width="9.33" height="10.09" fill="#4f93c7"/>
<rect x="166.53" y="341.54" width="9.33" height="10.09" fill="#b9d7ea"/>
<rect x="175.56" y="341.54" width="9.33" height="10.09" fill="#b9d7ea"/>
<rect x="184.59" y="341.54" width="9.33" height="10.09" fill="#d6e7f2"/>
<rect x="193.63" y="341.54" width="9.33" height="10.09" fill="#b9d7ea"/>
<rect x="202.66" y="341.54" width="9.33" height="10.09" fill="#4f93c7"/>
<rect x="22.00" y="351.32" width="9.33" height="10.09" fill="#c3343c"/>
<rect x="31.03" y="351.32" width="9.33" height="10.09" fill="#a81a31"/>
<rect x="40.07" y="351.32" width="9.33" height="10.09" fill="#c3343c"/>
<rect x="49.10" y="351.32" width="9.33" height="10.09" fill="#9ac6e1"/>
<rect x="58.13" y="351.32" width="9.33" height="10.09" fill="#d6e7f2"/>
<rect x="67.16" y="351.32" width="9.33" height="10.09" fill="#d6604d"/>
<rect x="76.20" y="351.32" width="9.33" height="10.09" fill="#d6604d"/>
<rect x="85.23" y="351.32" width="9.33" height="10.09" fill="#d6604d"/>
<rect x="94.26" y="351.32" width="9.33" height="10.09" fill="#f5c6ae"/>
<rect x="103.30" y="351.32" width="9.33" height="10.09" fill="#d6e7f2"/>
<rect x="112.33" y="351.32" width="9.33" height="10.09" fill="#d6604d"/>
<rect x="121.36" y="351.32" width="9.33" height="10.09" fill="#d6604d"/>
<rect x="130.40" y="351.32" width="9.33" height="10.09" fill="#d6604d"/>
<rect x="139.43" y="351.32" width="9.33" height="10.09" fill="#d6604d"/>
<rect x="148.46" y="351.32" width="9.33" height="10.09" fill="#e48468"/>
<rect x="157.50" y="351.32" width="9.33" height="10.09" fill="#d6604d"/>
<rect x="166.53" y="351.32" width="9.33" height="10.09" fill="#ffffff"/>
<rect x="175.56" y="351.32" width="9.33" height="10.09" fill="#d6604d"/>
<rect x="184.59" y="351.32" width="9.33" height="10.09" fill="#f3f5f6"/>
<rect x="193.63" y="351.32" width="9.33" height="10.09" fill="#c3343c"/>
<rect x="202.66" y="351.32" width="9.33" height="10.09" fill="#d6e7f2"/>
<rect x="22.00" y="361.11" width="9.33" height="10.09" fill="#f5c6ae"/>
<rect x="31.03" y="361.11" width="9.33" height="10.09" fill="#f5c6ae"/>
<rect x="40.07" y="361.11" width="9.33" height="10.09" fill="#c3343c"/>
<rect x="49.10" y="361.11" width="9.33" height="10.09" fill="#3474b5"/>
<rect x="58.13" y="361.11" width="9.33" height="10.09" fill="#9ac6e1"/>
<rect x="67.16" y="361.11" width="9.33" height="10.09" fill="#f3f5f6"/>
<rect x="76.20" y="361.11" width="9.33" height="10.09" fill="#ffffff"/>
<rect x="85.23" y="361.11" width="9.33" height="10.09" fill="#fbe3d7"/>
<rect x="94.26" y="361.11" width="9.33" height="10.09" fill="#f5c6ae"/>
<rect x="103.30" y="361.11" width="9.33" height="10.09" fill="#b9d7ea"/>
<rect x="112.33" y="361.11" width="9.33" height="10.09" fill="#f0ad8e"/>
<rect x="121.36" y="361.11" width="9.33" height="10.09" fill="#fbe3d7"/>
<rect x="130.40" y="361.11" width="9.33" height="10.09" fill="#f0ad8e"/>
<rect x="139.43" y="361.11" width="9.33" height="10.09" fill="#d6e7f2"/>
<rect x="148.46" y="361.11" width="9.33" height="10.09" fill="#f0ad8e"/>
<rect x="157.50" y="361.11" width="9.33" height="10.09" fill="#b9d7ea"/>
<rect x="166.53" y="361.11" width="9.33" height="10.09" fill="#fbe3d7"/>
<rect x="175.56" y="361.11" width="9.33" height="10.09" fill="#e48468"/>
<rect x="184.59" y="361.11" width="9.33" height="10.09" fill="#d6e7f2"/>
<rect x="193.63" y="361.11" width="9.33" height="10.09" fill="#b9d7ea"/>
<rect x="202.66" y="361.11" width="9.33" height="10.09" fill="#9ac6e1"/>
</g>
<g stroke="#474747" stroke-width="0.95" stroke-linecap="round" stroke-opacity="0.85">
<line x1="24.62" y1="93.89" x2="28.42" y2="90.09"/>
<line x1="34.25" y1="93.29" x2="36.85" y2="90.69"/>
<line x1="42.48" y1="94.09" x2="46.68" y2="89.89"/>
<line x1="51.72" y1="93.89" x2="55.52" y2="90.09"/>
<line x1="70.78" y1="92.89" x2="72.58" y2="91.09"/>
<line x1="79.61" y1="93.09" x2="81.81" y2="90.89"/>
<line x1="87.25" y1="94.49" x2="92.25" y2="89.49"/>
<line x1="97.68" y1="93.09" x2="99.88" y2="90.89"/>
<line x1="105.91" y1="93.89" x2="109.71" y2="90.09"/>
<line x1="115.35" y1="93.49" x2="118.35" y2="90.49"/>
<line x1="124.98" y1="92.89" x2="126.78" y2="91.09"/>
<line x1="132.41" y1="94.49" x2="137.41" y2="89.49"/>
<line x1="142.45" y1="93.49" x2="145.45" y2="90.49"/>
<line x1="152.08" y1="92.89" x2="153.88" y2="91.09"/>
<line x1="160.91" y1="93.09" x2="163.11" y2="90.89"/>
<line x1="168.94" y1="94.09" x2="173.14" y2="89.89"/>
<line x1="177.98" y1="94.09" x2="182.18" y2="89.89"/>
<line x1="188.01" y1="93.09" x2="190.21" y2="90.89"/>
<line x1="196.64" y1="93.49" x2="199.64" y2="90.49"/>
<line x1="206.08" y1="93.09" x2="208.28" y2="90.89"/>
<line x1="24.02" y1="104.28" x2="29.02" y2="99.28"/>
<line x1="33.45" y1="103.88" x2="37.65" y2="99.68"/>
<line x1="43.68" y1="102.68" x2="45.48" y2="100.88"/>
<line x1="52.12" y1="103.28" x2="55.12" y2="100.28"/>
<line x1="61.55" y1="102.88" x2="63.75" y2="100.68"/>
<line x1="70.18" y1="103.28" x2="73.18" y2="100.28"/>
<line x1="78.81" y1="103.68" x2="82.61" y2="99.88"/>
<line x1="87.85" y1="103.68" x2="91.65" y2="99.88"/>
<line x1="106.31" y1="103.28" x2="109.31" y2="100.28"/>
<line x1="115.95" y1="102.68" x2="117.75" y2="100.88"/>
<line x1="124.38" y1="103.28" x2="127.38" y2="100.28"/>
<line x1="133.41" y1="103.28" x2="136.41" y2="100.28"/>
<line x1="141.85" y1="103.88" x2="146.05" y2="99.68"/>
<line x1="152.08" y1="102.68" x2="153.88" y2="100.88"/>
<line x1="160.51" y1="103.28" x2="163.51" y2="100.28"/>
<line x1="170.14" y1="102.68" x2="171.94" y2="100.88"/>
<line x1="177.58" y1="104.28" x2="182.58" y2="99.28"/>
<line x1="187.81" y1="103.08" x2="190.41" y2="100.48"/>
<line x1="196.44" y1="103.48" x2="199.84" y2="100.08"/>
<line x1="205.08" y1="103.88" x2="209.28" y2="99.68"/>
<line x1="25.22" y1="112.86" x2="27.82" y2="110.27"/>
<line x1="33.05" y1="114.06" x2="38.05" y2="109.06"/>
<line x1="43.48" y1="112.66" x2="45.68" y2="110.47"/>
<line x1="52.12" y1="113.06" x2="55.12" y2="110.06"/>
<line x1="60.95" y1="113.27" x2="64.35" y2="109.86"/>
<line x1="69.18" y1="114.06" x2="74.18" y2="109.06"/>
<line x1="78.81" y1="113.47" x2="82.61" y2="109.66"/>
<line x1="88.45" y1="112.86" x2="91.05" y2="110.27"/>
<line x1="97.68" y1="112.66" x2="99.88" y2="110.47"/>
<line x1="106.31" y1="113.06" x2="109.31" y2="110.06"/>
<line x1="115.35" y1="113.06" x2="118.35" y2="110.06"/>
<line x1="133.01" y1="113.47" x2="136.81" y2="109.66"/>
<line x1="142.45" y1="113.06" x2="145.45" y2="110.06"/>
<line x1="151.08" y1="113.47" x2="154.88" y2="109.66"/>
<line x1="160.91" y1="112.66" x2="163.11" y2="110.47"/>
<line x1="168.54" y1="114.06" x2="173.54" y2="109.06"/>
<line x1="176.88" y1="114.77" x2="183.28" y2="108.36"/>
<line x1="188.01" y1="112.66" x2="190.21" y2="110.47"/>
<line x1="196.64" y1="113.06" x2="199.64" y2="110.06"/>
<line x1="206.28" y1="112.47" x2="208.08" y2="110.66"/>
<line x1="25.02" y1="122.85" x2="28.02" y2="119.85"/>
<line x1="34.05" y1="122.85" x2="37.05" y2="119.85"/>
<line x1="42.28" y1="123.65" x2="46.88" y2="119.05"/>
<line x1="51.72" y1="123.25" x2="55.52" y2="119.45"/>
<line x1="60.15" y1="123.85" x2="65.15" y2="118.85"/>
<line x1="69.58" y1="123.45" x2="73.78" y2="119.25"/>
<line x1="78.81" y1="123.25" x2="82.61" y2="119.45"/>
<line x1="87.45" y1="123.65" x2="92.05" y2="119.05"/>
<line x1="97.28" y1="122.85" x2="100.28" y2="119.85"/>
<line x1="105.51" y1="123.65" x2="110.11" y2="119.05"/>
<line x1="114.95" y1="123.25" x2="118.75" y2="119.45"/>
<line x1="124.18" y1="123.05" x2="127.58" y2="119.65"/>
<line x1="133.41" y1="122.85" x2="136.41" y2="119.85"/>
<line x1="142.65" y1="122.65" x2="145.25" y2="120.05"/>
<line x1="149.78" y1="124.55" x2="156.18" y2="118.15"/>
<line x1="160.51" y1="122.85" x2="163.51" y2="119.85"/>
<line x1="178.98" y1="122.45" x2="181.18" y2="120.25"/>
<line x1="187.61" y1="122.85" x2="190.61" y2="119.85"/>
<line x1="196.44" y1="123.05" x2="199.84" y2="119.65"/>
<line x1="204.68" y1="123.85" x2="209.68" y2="118.85"/>
<line x1="24.22" y1="133.44" x2="28.82" y2="128.84"/>
<line x1="33.65" y1="133.04" x2="37.45" y2="129.24"/>
<line x1="41.38" y1="134.34" x2="47.78" y2="127.94"/>
<line x1="51.32" y1="133.44" x2="55.92" y2="128.84"/>
<line x1="60.95" y1="132.84" x2="64.35" y2="129.44"/>
<line x1="70.18" y1="132.64" x2="73.18" y2="129.64"/>
<line x1="79.61" y1="132.24" x2="81.81" y2="130.04"/>
<line x1="88.65" y1="132.24" x2="90.85" y2="130.04"/>
<line x1="96.28" y1="133.64" x2="101.28" y2="128.64"/>
<line x1="105.71" y1="133.24" x2="109.91" y2="129.04"/>
<line x1="115.55" y1="132.44" x2="118.15" y2="129.84"/>
<line x1="123.98" y1="133.04" x2="127.78" y2="129.24"/>
<line x1="142.65" y1="132.44" x2="145.25" y2="129.84"/>
<line x1="150.68" y1="133.44" x2="155.28" y2="128.84"/>
<line x1="159.91" y1="133.24" x2="164.11" y2="129.04"/>
<line x1="170.14" y1="132.04" x2="171.94" y2="130.24"/>
<line x1="178.18" y1="133.04" x2="181.98" y2="129.24"/>
<line x1="188.01" y1="132.24" x2="190.21" y2="130.04"/>
<line x1="195.64" y1="133.64" x2="200.64" y2="128.64"/>
<line x1="205.68" y1="132.64" x2="208.68" y2="129.64"/>
<line x1="24.62" y1="142.82" x2="28.42" y2="139.02"/>
<line x1="33.65" y1="142.82" x2="37.45" y2="139.02"/>
<line x1="41.38" y1="144.12" x2="47.78" y2="137.72"/>
<line x1="51.72" y1="142.82" x2="55.52" y2="139.02"/>
<line x1="61.15" y1="142.42" x2="64.15" y2="139.42"/>
<line x1="69.38" y1="143.22" x2="73.98" y2="138.62"/>
<line x1="79.21" y1="142.42" x2="82.21" y2="139.42"/>
<line x1="96.48" y1="143.22" x2="101.08" y2="138.62"/>
<line x1="106.71" y1="142.02" x2="108.91" y2="139.82"/>
<line x1="115.75" y1="142.02" x2="117.95" y2="139.82"/>
<line x1="124.18" y1="142.62" x2="127.58" y2="139.22"/>
<line x1="132.61" y1="143.22" x2="137.21" y2="138.62"/>
<line x1="140.75" y1="144.12" x2="147.15" y2="137.72"/>
<line x1="151.08" y1="142.82" x2="154.88" y2="139.02"/>
<line x1="160.91" y1="142.02" x2="163.11" y2="139.82"/>
<line x1="170.14" y1="141.82" x2="171.94" y2="140.02"/>
<line x1="176.88" y1="144.12" x2="183.28" y2="137.72"/>
<line x1="185.91" y1="144.12" x2="192.31" y2="137.72"/>
<line x1="196.44" y1="142.62" x2="199.84" y2="139.22"/>
<line x1="205.28" y1="142.82" x2="209.08" y2="139.02"/>
<line x1="25.02" y1="152.21" x2="28.02" y2="149.21"/>
<line x1="33.65" y1="152.61" x2="37.45" y2="148.81"/>
<line x1="42.28" y1="153.01" x2="46.88" y2="148.41"/>
<line x1="51.92" y1="152.41" x2="55.32" y2="149.01"/>
<line x1="59.45" y1="153.91" x2="65.85" y2="147.51"/>
<line x1="69.58" y1="152.81" x2="73.78" y2="148.61"/>
<line x1="78.81" y1="152.61" x2="82.61" y2="148.81"/>
<line x1="87.85" y1="152.61" x2="91.65" y2="148.81"/>
<line x1="97.88" y1="151.61" x2="99.68" y2="149.81"/>
<line x1="105.51" y1="153.01" x2="110.11" y2="148.41"/>
<line x1="114.95" y1="152.61" x2="118.75" y2="148.81"/>
<line x1="124.58" y1="152.01" x2="127.18" y2="149.41"/>
<line x1="133.41" y1="152.21" x2="136.41" y2="149.21"/>
<line x1="151.88" y1="151.81" x2="154.08" y2="149.61"/>
<line x1="159.71" y1="153.01" x2="164.31" y2="148.41"/>
<line x1="170.14" y1="151.61" x2="171.94" y2="149.81"/>
<line x1="178.58" y1="152.21" x2="181.58" y2="149.21"/>
<line x1="187.41" y1="152.41" x2="190.81" y2="149.01"/>
<line x1="196.84" y1="152.01" x2="199.44" y2="149.41"/>
<line x1="203.98" y1="153.91" x2="210.38" y2="147.51"/>
<line x1="25.02" y1="161.99" x2="28.02" y2="158.99"/>
<line x1="33.45" y1="162.59" x2="37.65" y2="158.39"/>
<line x1="42.48" y1="162.59" x2="46.68" y2="158.39"/>
<line x1="51.32" y1="162.79" x2="55.92" y2="158.19"/>
<line x1="61.55" y1="161.59" x2="63.75" y2="159.39"/>
<line x1="70.38" y1="161.79" x2="72.98" y2="159.19"/>
<line x1="78.41" y1="162.79" x2="83.01" y2="158.19"/>
<line x1="87.65" y1="162.59" x2="91.85" y2="158.39"/>
<line x1="96.28" y1="162.99" x2="101.28" y2="157.99"/>
<line x1="106.11" y1="162.19" x2="109.51" y2="158.79"/>
<line x1="115.55" y1="161.79" x2="118.15" y2="159.19"/>
<line x1="123.78" y1="162.59" x2="127.98" y2="158.39"/>
<line x1="132.41" y1="162.99" x2="137.41" y2="157.99"/>
<line x1="142.25" y1="162.19" x2="145.65" y2="158.79"/>
<line x1="158.81" y1="163.69" x2="165.21" y2="157.29"/>
<line x1="168.94" y1="162.59" x2="173.14" y2="158.39"/>
<line x1="178.18" y1="162.39" x2="181.98" y2="158.59"/>
<line x1="187.21" y1="162.39" x2="191.01" y2="158.59"/>
<line x1="196.04" y1="162.59" x2="200.24" y2="158.39"/>
<line x1="205.68" y1="161.99" x2="208.68" y2="158.99"/>
<line x1="25.22" y1="171.58" x2="27.82" y2="168.98"/>
<line x1="34.45" y1="171.38" x2="36.65" y2="169.18"/>
<line x1="43.28" y1="171.58" x2="45.88" y2="168.98"/>
<line x1="52.32" y1="171.58" x2="54.92" y2="168.98"/>
<line x1="61.15" y1="171.78" x2="64.15" y2="168.78"/>
<line x1="69.78" y1="172.18" x2="73.58" y2="168.38"/>
<line x1="79.21" y1="171.78" x2="82.21" y2="168.78"/>
<line x1="88.85" y1="171.18" x2="90.65" y2="169.38"/>
<line x1="105.51" y1="172.58" x2="110.11" y2="167.98"/>
<line x1="115.35" y1="171.78" x2="118.35" y2="168.78"/>
<line x1="124.58" y1="171.58" x2="127.18" y2="168.98"/>
<line x1="133.21" y1="171.98" x2="136.61" y2="168.58"/>
<line x1="142.25" y1="171.98" x2="145.65" y2="168.58"/>
<line x1="152.08" y1="171.18" x2="153.88" y2="169.38"/>
<line x1="160.71" y1="171.58" x2="163.31" y2="168.98"/>
<line x1="168.94" y1="172.38" x2="173.14" y2="168.18"/>
<line x1="177.58" y1="172.78" x2="182.58" y2="167.78"/>
<line x1="187.21" y1="172.18" x2="191.01" y2="168.38"/>
<line x1="196.64" y1="171.78" x2="199.64" y2="168.78"/>
<line x1="205.68" y1="171.78" x2="208.68" y2="168.78"/>
<line x1="24.62" y1="181.97" x2="28.42" y2="178.17"/>
<line x1="34.25" y1="181.37" x2="36.85" y2="178.77"/>
<line x1="41.38" y1="183.27" x2="47.78" y2="176.87"/>
<line x1="51.12" y1="182.57" x2="56.12" y2="177.57"/>
<line x1="61.15" y1="181.57" x2="64.15" y2="178.57"/>
<line x1="69.78" y1="181.97" x2="73.58" y2="178.17"/>
<line x1="78.81" y1="181.97" x2="82.61" y2="178.17"/>
<line x1="86.55" y1="183.27" x2="92.95" y2="176.87"/>
<line x1="97.88" y1="180.97" x2="99.68" y2="179.17"/>
<line x1="105.51" y1="182.37" x2="110.11" y2="177.77"/>
<line x1="114.95" y1="181.97" x2="118.75" y2="178.17"/>
<line x1="132.41" y1="182.57" x2="137.41" y2="177.57"/>
<line x1="141.85" y1="182.17" x2="146.05" y2="177.97"/>
<line x1="150.88" y1="182.17" x2="155.08" y2="177.97"/>
<line x1="159.91" y1="182.17" x2="164.11" y2="177.97"/>
<line x1="168.94" y1="182.17" x2="173.14" y2="177.97"/>
<line x1="178.98" y1="181.17" x2="181.18" y2="178.97"/>
<line x1="186.81" y1="182.37" x2="191.41" y2="177.77"/>
<line x1="196.24" y1="181.97" x2="200.04" y2="178.17"/>
<line x1="205.08" y1="182.17" x2="209.28" y2="177.97"/>
<line x1="25.62" y1="190.75" x2="27.42" y2="188.95"/>
<line x1="34.05" y1="191.35" x2="37.05" y2="188.35"/>
<line x1="43.48" y1="190.95" x2="45.68" y2="188.75"/>
<line x1="52.12" y1="191.35" x2="55.12" y2="188.35"/>
<line x1="60.35" y1="192.15" x2="64.95" y2="187.55"/>
<line x1="70.38" y1="191.15" x2="72.98" y2="188.55"/>
<line x1="79.61" y1="190.95" x2="81.81" y2="188.75"/>
<line x1="87.85" y1="191.75" x2="91.65" y2="187.95"/>
<line x1="97.28" y1="191.35" x2="100.28" y2="188.35"/>
<line x1="106.91" y1="190.75" x2="108.71" y2="188.95"/>
<line x1="115.75" y1="190.95" x2="117.95" y2="188.75"/>
<line x1="124.98" y1="190.75" x2="126.78" y2="188.95"/>
<line x1="133.41" y1="191.35" x2="136.41" y2="188.35"/>
<line x1="151.68" y1="191.15" x2="154.28" y2="188.55"/>
<line x1="159.51" y1="192.35" x2="164.51" y2="187.35"/>
<line x1="169.94" y1="190.95" x2="172.14" y2="188.75"/>
<line x1="178.18" y1="191.75" x2="181.98" y2="187.95"/>
<line x1="187.61" y1="191.35" x2="190.61" y2="188.35"/>
<line x1="197.24" y1="190.75" x2="199.04" y2="188.95"/>
<line x1="206.08" y1="190.95" x2="208.28" y2="188.75"/>
<line x1="34.05" y1="201.14" x2="37.05" y2="198.14"/>
<line x1="43.08" y1="201.14" x2="46.08" y2="198.14"/>
<line x1="51.52" y1="201.74" x2="55.72" y2="197.54"/>
<line x1="61.35" y1="200.94" x2="63.95" y2="198.34"/>
<line x1="69.78" y1="201.54" x2="73.58" y2="197.74"/>
<line x1="79.01" y1="201.34" x2="82.41" y2="197.94"/>
<line x1="87.85" y1="201.54" x2="91.65" y2="197.74"/>
<line x1="97.28" y1="201.14" x2="100.28" y2="198.14"/>
<line x1="105.91" y1="201.54" x2="109.71" y2="197.74"/>
<line x1="114.55" y1="201.94" x2="119.15" y2="197.34"/>
<line x1="124.78" y1="200.74" x2="126.98" y2="198.54"/>
<line x1="133.81" y1="200.74" x2="136.01" y2="198.54"/>
<line x1="141.65" y1="201.94" x2="146.25" y2="197.34"/>
<line x1="150.68" y1="201.94" x2="155.28" y2="197.34"/>
<line x1="159.71" y1="201.94" x2="164.31" y2="197.34"/>
<line x1="168.74" y1="201.94" x2="173.34" y2="197.34"/>
<line x1="178.38" y1="201.34" x2="181.78" y2="197.94"/>
<line x1="188.01" y1="200.74" x2="190.21" y2="198.54"/>
<line x1="196.84" y1="200.94" x2="199.44" y2="198.34"/>
<line x1="206.08" y1="200.74" x2="208.28" y2="198.54"/>
<line x1="23.32" y1="212.62" x2="29.72" y2="206.22"/>
<line x1="33.65" y1="211.32" x2="37.45" y2="207.52"/>
<line x1="41.38" y1="212.62" x2="47.78" y2="206.22"/>
<line x1="51.92" y1="211.12" x2="55.32" y2="207.72"/>
<line x1="60.35" y1="211.72" x2="64.95" y2="207.12"/>
<line x1="68.48" y1="212.62" x2="74.88" y2="206.22"/>
<line x1="79.41" y1="210.72" x2="82.01" y2="208.12"/>
<line x1="87.25" y1="211.92" x2="92.25" y2="206.92"/>
<line x1="97.88" y1="210.32" x2="99.68" y2="208.52"/>
<line x1="106.31" y1="210.92" x2="109.31" y2="207.92"/>
<line x1="114.35" y1="211.92" x2="119.35" y2="206.92"/>
<line x1="123.98" y1="211.32" x2="127.78" y2="207.52"/>
<line x1="133.61" y1="210.72" x2="136.21" y2="208.12"/>
<line x1="149.78" y1="212.62" x2="156.18" y2="206.22"/>
<line x1="159.51" y1="211.92" x2="164.51" y2="206.92"/>
<line x1="170.14" y1="210.32" x2="171.94" y2="208.52"/>
<line x1="177.58" y1="211.92" x2="182.58" y2="206.92"/>
<line x1="187.41" y1="211.12" x2="190.81" y2="207.72"/>
<line x1="196.24" y1="211.32" x2="200.04" y2="207.52"/>
<line x1="206.08" y1="210.52" x2="208.28" y2="208.32"/>
<line x1="23.32" y1="222.41" x2="29.72" y2="216.01"/>
<line x1="33.85" y1="220.91" x2="37.25" y2="217.51"/>
<line x1="42.08" y1="221.71" x2="47.08" y2="216.71"/>
<line x1="51.72" y1="221.11" x2="55.52" y2="217.31"/>
<line x1="61.35" y1="220.51" x2="63.95" y2="217.91"/>
<line x1="69.78" y1="221.11" x2="73.58" y2="217.31"/>
<line x1="79.21" y1="220.71" x2="82.21" y2="217.71"/>
<line x1="87.25" y1="221.71" x2="92.25" y2="216.71"/>
<line x1="96.28" y1="221.71" x2="101.28" y2="216.71"/>
<line x1="105.31" y1="221.71" x2="110.31" y2="216.71"/>
<line x1="114.95" y1="221.11" x2="118.75" y2="217.31"/>
<line x1="123.98" y1="221.11" x2="127.78" y2="217.31"/>
<line x1="133.41" y1="220.71" x2="136.41" y2="217.71"/>
<line x1="142.45" y1="220.71" x2="145.45" y2="217.71"/>
<line x1="160.51" y1="220.71" x2="163.51" y2="217.71"/>
<line x1="169.54" y1="220.71" x2="172.54" y2="217.71"/>
<line x1="177.98" y1="221.31" x2="182.18" y2="217.11"/>
<line x1="185.91" y1="222.41" x2="192.31" y2="216.01"/>
<line x1="196.64" y1="220.71" x2="199.64" y2="217.71"/>
<line x1="205.68" y1="220.71" x2="208.68" y2="217.71"/>
<line x1="24.02" y1="231.50" x2="29.02" y2="226.50"/>
<line x1="33.25" y1="231.30" x2="37.85" y2="226.70"/>
<line x1="42.68" y1="230.90" x2="46.48" y2="227.10"/>
<line x1="50.42" y1="232.20" x2="56.82" y2="225.80"/>
<line x1="61.75" y1="229.90" x2="63.55" y2="228.10"/>
<line x1="70.78" y1="229.90" x2="72.58" y2="228.10"/>
<line x1="79.01" y1="230.70" x2="82.41" y2="227.30"/>
<line x1="87.45" y1="231.30" x2="92.05" y2="226.70"/>
<line x1="97.08" y1="230.70" x2="100.48" y2="227.30"/>
<line x1="106.31" y1="230.50" x2="109.31" y2="227.50"/>
<line x1="113.65" y1="232.20" x2="120.05" y2="225.80"/>
<line x1="124.38" y1="230.50" x2="127.38" y2="227.50"/>
<line x1="133.01" y1="230.90" x2="136.81" y2="227.10"/>
<line x1="150.68" y1="231.30" x2="155.28" y2="226.70"/>
<line x1="158.81" y1="232.20" x2="165.21" y2="225.80"/>
<line x1="169.14" y1="230.90" x2="172.94" y2="227.10"/>
<line x1="178.18" y1="230.90" x2="181.98" y2="227.10"/>
<line x1="188.01" y1="230.10" x2="190.21" y2="227.90"/>
<line x1="196.64" y1="230.50" x2="199.64" y2="227.50"/>
<line x1="206.08" y1="230.10" x2="208.28" y2="227.90"/>
<line x1="25.02" y1="240.28" x2="28.02" y2="237.28"/>
<line x1="33.25" y1="241.08" x2="37.85" y2="236.48"/>
<line x1="43.08" y1="240.28" x2="46.08" y2="237.28"/>
<line x1="51.72" y1="240.68" x2="55.52" y2="236.88"/>
<line x1="61.15" y1="240.28" x2="64.15" y2="237.28"/>
<line x1="69.38" y1="241.08" x2="73.98" y2="236.48"/>
<line x1="79.21" y1="240.28" x2="82.21" y2="237.28"/>
<line x1="88.25" y1="240.28" x2="91.25" y2="237.28"/>
<line x1="97.88" y1="239.68" x2="99.68" y2="237.88"/>
<line x1="105.51" y1="241.08" x2="110.11" y2="236.48"/>
<line x1="114.95" y1="240.68" x2="118.75" y2="236.88"/>
<line x1="123.98" y1="240.68" x2="127.78" y2="236.88"/>
<line x1="133.01" y1="240.68" x2="136.81" y2="236.88"/>
<line x1="142.85" y1="239.88" x2="145.05" y2="237.68"/>
<line x1="151.08" y1="240.68" x2="154.88" y2="236.88"/>
<line x1="160.91" y1="239.88" x2="163.11" y2="237.68"/>
<line x1="168.94" y1="240.88" x2="173.14" y2="236.68"/>
<line x1="176.88" y1="241.98" x2="183.28" y2="235.58"/>
<line x1="196.64" y1="240.28" x2="199.64" y2="237.28"/>
<line x1="204.88" y1="241.08" x2="209.48" y2="236.48"/>
<line x1="25.22" y1="249.87" x2="27.82" y2="247.27"/>
<line x1="33.45" y1="250.67" x2="37.65" y2="246.47"/>
<line x1="42.68" y1="250.47" x2="46.48" y2="246.67"/>
<line x1="51.72" y1="250.47" x2="55.52" y2="246.67"/>
<line x1="61.55" y1="249.67" x2="63.75" y2="247.47"/>
<line x1="68.48" y1="251.77" x2="74.88" y2="245.37"/>
<line x1="78.61" y1="250.67" x2="82.81" y2="246.47"/>
<line x1="87.45" y1="250.87" x2="92.05" y2="246.27"/>
<line x1="96.68" y1="250.67" x2="100.88" y2="246.47"/>
<line x1="104.61" y1="251.77" x2="111.01" y2="245.37"/>
<line x1="115.75" y1="249.67" x2="117.95" y2="247.47"/>
<line x1="122.68" y1="251.77" x2="129.08" y2="245.37"/>
<line x1="133.61" y1="249.87" x2="136.21" y2="247.27"/>
<line x1="151.68" y1="249.87" x2="154.28" y2="247.27"/>
<line x1="160.71" y1="249.87" x2="163.31" y2="247.27"/>
<line x1="170.14" y1="249.47" x2="171.94" y2="247.67"/>
<line x1="178.78" y1="249.87" x2="181.38" y2="247.27"/>
<line x1="187.61" y1="250.07" x2="190.61" y2="247.07"/>
<line x1="195.84" y1="250.87" x2="200.44" y2="246.27"/>
<line x1="205.28" y1="250.47" x2="209.08" y2="246.67"/>
<line x1="25.22" y1="259.65" x2="27.82" y2="257.05"/>
<line x1="34.05" y1="259.85" x2="37.05" y2="256.85"/>
<line x1="43.08" y1="259.85" x2="46.08" y2="256.85"/>
<line x1="51.32" y1="260.65" x2="55.92" y2="256.05"/>
<line x1="60.75" y1="260.25" x2="64.55" y2="256.45"/>
<line x1="78.81" y1="260.25" x2="82.61" y2="256.45"/>
<line x1="88.45" y1="259.65" x2="91.05" y2="257.05"/>
<line x1="96.28" y1="260.85" x2="101.28" y2="255.85"/>
<line x1="105.31" y1="260.85" x2="110.31" y2="255.85"/>
<line x1="115.55" y1="259.65" x2="118.15" y2="257.05"/>
<line x1="124.98" y1="259.25" x2="126.78" y2="257.45"/>
<line x1="134.01" y1="259.25" x2="135.81" y2="257.45"/>
<line x1="140.75" y1="261.55" x2="147.15" y2="255.15"/>
<line x1="151.08" y1="260.25" x2="154.88" y2="256.45"/>
<line x1="160.91" y1="259.45" x2="163.11" y2="257.25"/>
<line x1="168.54" y1="260.85" x2="173.54" y2="255.85"/>
<line x1="176.88" y1="261.55" x2="183.28" y2="255.15"/>
<line x1="187.81" y1="259.65" x2="190.41" y2="257.05"/>
<line x1="196.04" y1="260.45" x2="200.24" y2="256.25"/>
<line x1="205.68" y1="259.85" x2="208.68" y2="256.85"/>
<line x1="25.02" y1="269.64" x2="28.02" y2="266.64"/>
<line x1="34.65" y1="269.04" x2="36.45" y2="267.24"/>
<line x1="42.88" y1="269.84" x2="46.28" y2="266.44"/>
<line x1="52.12" y1="269.64" x2="55.12" y2="266.64"/>
<line x1="60.95" y1="269.84" x2="64.35" y2="266.44"/>
<line x1="69.18" y1="270.64" x2="74.18" y2="265.64"/>
<line x1="79.21" y1="269.64" x2="82.21" y2="266.64"/>
<line x1="88.25" y1="269.64" x2="91.25" y2="266.64"/>
<line x1="96.88" y1="270.04" x2="100.68" y2="266.24"/>
<line x1="106.11" y1="269.84" x2="109.51" y2="266.44"/>
<line x1="114.35" y1="270.64" x2="119.35" y2="265.64"/>
<line x1="132.81" y1="270.24" x2="137.01" y2="266.04"/>
<line x1="142.65" y1="269.44" x2="145.25" y2="266.84"/>
<line x1="152.08" y1="269.04" x2="153.88" y2="267.24"/>
<line x1="158.81" y1="271.34" x2="165.21" y2="264.94"/>
<line x1="169.14" y1="270.04" x2="172.94" y2="266.24"/>
<line x1="177.78" y1="270.44" x2="182.38" y2="265.84"/>
<line x1="187.21" y1="270.04" x2="191.01" y2="266.24"/>
<line x1="196.64" y1="269.64" x2="199.64" y2="266.64"/>
<line x1="204.68" y1="270.64" x2="209.68" y2="265.64"/>
<line x1="24.42" y1="280.03" x2="28.62" y2="275.83"/>
<line x1="33.05" y1="280.43" x2="38.05" y2="275.43"/>
<line x1="43.28" y1="279.23" x2="45.88" y2="276.63"/>
<line x1="51.12" y1="280.43" x2="56.12" y2="275.43"/>
<line x1="61.35" y1="279.23" x2="63.95" y2="276.63"/>
<line x1="69.18" y1="280.43" x2="74.18" y2="275.43"/>
<line x1="78.21" y1="280.43" x2="83.21" y2="275.43"/>
<line x1="88.85" y1="278.83" x2="90.65" y2="277.03"/>
<line x1="96.48" y1="280.23" x2="101.08" y2="275.63"/>
<line x1="106.51" y1="279.23" x2="109.11" y2="276.63"/>
<line x1="115.35" y1="279.43" x2="118.35" y2="276.43"/>
<line x1="124.98" y1="278.83" x2="126.78" y2="277.03"/>
<line x1="133.61" y1="279.23" x2="136.21" y2="276.63"/>
<line x1="142.65" y1="279.23" x2="145.25" y2="276.63"/>
<line x1="160.71" y1="279.23" x2="163.31" y2="276.63"/>
<line x1="168.74" y1="280.23" x2="173.34" y2="275.63"/>
<line x1="178.58" y1="279.43" x2="181.58" y2="276.43"/>
<line x1="185.91" y1="281.13" x2="192.31" y2="274.73"/>
<line x1="197.04" y1="279.03" x2="199.24" y2="276.83"/>
<line x1="204.68" y1="280.43" x2="209.68" y2="275.43"/>
<line x1="25.62" y1="288.61" x2="27.42" y2="286.81"/>
<line x1="33.65" y1="289.61" x2="37.45" y2="285.81"/>
<line x1="42.68" y1="289.61" x2="46.48" y2="285.81"/>
<line x1="51.12" y1="290.21" x2="56.12" y2="285.21"/>
<line x1="60.15" y1="290.21" x2="65.15" y2="285.21"/>
<line x1="69.18" y1="290.21" x2="74.18" y2="285.21"/>
<line x1="78.41" y1="290.01" x2="83.01" y2="285.41"/>
<line x1="88.65" y1="288.81" x2="90.85" y2="286.61"/>
<line x1="96.28" y1="290.21" x2="101.28" y2="285.21"/>
<line x1="106.91" y1="288.61" x2="108.71" y2="286.81"/>
<line x1="115.35" y1="289.21" x2="118.35" y2="286.21"/>
<line x1="124.38" y1="289.21" x2="127.38" y2="286.21"/>
<line x1="133.21" y1="289.41" x2="136.61" y2="286.01"/>
<line x1="152.08" y1="288.61" x2="153.88" y2="286.81"/>
<line x1="160.91" y1="288.81" x2="163.11" y2="286.61"/>
<line x1="168.54" y1="290.21" x2="173.54" y2="285.21"/>
<line x1="177.78" y1="290.01" x2="182.38" y2="285.41"/>
<line x1="186.61" y1="290.21" x2="191.61" y2="285.21"/>
<line x1="197.24" y1="288.61" x2="199.04" y2="286.81"/>
<line x1="206.08" y1="288.81" x2="208.28" y2="286.61"/>
<line x1="24.22" y1="299.80" x2="28.82" y2="295.20"/>
<line x1="33.65" y1="299.40" x2="37.45" y2="295.60"/>
<line x1="43.08" y1="299.00" x2="46.08" y2="296.00"/>
<line x1="51.12" y1="300.00" x2="56.12" y2="295.00"/>
<line x1="61.15" y1="299.00" x2="64.15" y2="296.00"/>
<line x1="69.18" y1="300.00" x2="74.18" y2="295.00"/>
<line x1="79.21" y1="299.00" x2="82.21" y2="296.00"/>
<line x1="86.55" y1="300.70" x2="92.95" y2="294.30"/>
<line x1="97.08" y1="299.20" x2="100.48" y2="295.80"/>
<line x1="105.51" y1="299.80" x2="110.11" y2="295.20"/>
<line x1="114.35" y1="300.00" x2="119.35" y2="295.00"/>
<line x1="123.38" y1="300.00" x2="128.38" y2="295.00"/>
<line x1="132.61" y1="299.80" x2="137.21" y2="295.20"/>
<line x1="141.45" y1="300.00" x2="146.45" y2="295.00"/>
<line x1="151.48" y1="299.00" x2="154.48" y2="296.00"/>
<line x1="158.81" y1="300.70" x2="165.21" y2="294.30"/>
<line x1="168.54" y1="300.00" x2="173.54" y2="295.00"/>
<line x1="178.38" y1="299.20" x2="181.78" y2="295.80"/>
<line x1="195.64" y1="300.00" x2="200.64" y2="295.00"/>
<line x1="205.68" y1="299.00" x2="208.68" y2="296.00"/>
<line x1="24.22" y1="309.58" x2="28.82" y2="304.98"/>
<line x1="34.25" y1="308.58" x2="36.85" y2="305.98"/>
<line x1="42.48" y1="309.38" x2="46.68" y2="305.18"/>
<line x1="52.52" y1="308.38" x2="54.72" y2="306.18"/>
<line x1="60.55" y1="309.38" x2="64.75" y2="305.18"/>
<line x1="69.38" y1="309.58" x2="73.98" y2="304.98"/>
<line x1="78.81" y1="309.18" x2="82.61" y2="305.38"/>
<line x1="88.65" y1="308.38" x2="90.85" y2="306.18"/>
<line x1="96.88" y1="309.18" x2="100.68" y2="305.38"/>
<line x1="106.31" y1="308.78" x2="109.31" y2="305.78"/>
<line x1="114.75" y1="309.38" x2="118.95" y2="305.18"/>
<line x1="124.78" y1="308.38" x2="126.98" y2="306.18"/>
<line x1="133.41" y1="308.78" x2="136.41" y2="305.78"/>
<line x1="151.08" y1="309.18" x2="154.88" y2="305.38"/>
<line x1="160.31" y1="308.98" x2="163.71" y2="305.58"/>
<line x1="169.94" y1="308.38" x2="172.14" y2="306.18"/>
<line x1="178.78" y1="308.58" x2="181.38" y2="305.98"/>
<line x1="185.91" y1="310.48" x2="192.31" y2="304.08"/>
<line x1="196.24" y1="309.18" x2="200.04" y2="305.38"/>
<line x1="205.28" y1="309.18" x2="209.08" y2="305.38"/>
<line x1="24.62" y1="318.97" x2="28.42" y2="315.17"/>
<line x1="34.25" y1="318.37" x2="36.85" y2="315.77"/>
<line x1="42.88" y1="318.77" x2="46.28" y2="315.37"/>
<line x1="52.32" y1="318.37" x2="54.92" y2="315.77"/>
<line x1="60.35" y1="319.37" x2="64.95" y2="314.77"/>
<line x1="70.18" y1="318.57" x2="73.18" y2="315.57"/>
<line x1="77.51" y1="320.27" x2="83.91" y2="313.87"/>
<line x1="88.65" y1="318.17" x2="90.85" y2="315.97"/>
<line x1="96.68" y1="319.17" x2="100.88" y2="314.97"/>
<line x1="105.51" y1="319.37" x2="110.11" y2="314.77"/>
<line x1="115.55" y1="318.37" x2="118.15" y2="315.77"/>
<line x1="123.98" y1="318.97" x2="127.78" y2="315.17"/>
<line x1="133.41" y1="318.57" x2="136.41" y2="315.57"/>
<line x1="151.68" y1="318.37" x2="154.28" y2="315.77"/>
<line x1="158.81" y1="320.27" x2="165.21" y2="313.87"/>
<line x1="168.94" y1="319.17" x2="173.14" y2="314.97"/>
<line x1="177.58" y1="319.57" x2="182.58" y2="314.57"/>
<line x1="187.01" y1="319.17" x2="191.21" y2="314.97"/>
<line x1="196.24" y1="318.97" x2="200.04" y2="315.17"/>
<line x1="205.08" y1="319.17" x2="209.28" y2="314.97"/>
<line x1="25.02" y1="328.36" x2="28.02" y2="325.36"/>
<line x1="33.65" y1="328.76" x2="37.45" y2="324.96"/>
<line x1="42.68" y1="328.76" x2="46.48" y2="324.96"/>
<line x1="52.52" y1="327.96" x2="54.72" y2="325.76"/>
<line x1="59.45" y1="330.06" x2="65.85" y2="323.66"/>
<line x1="69.78" y1="328.76" x2="73.58" y2="324.96"/>
<line x1="79.81" y1="327.76" x2="81.61" y2="325.96"/>
<line x1="87.85" y1="328.76" x2="91.65" y2="324.96"/>
<line x1="96.28" y1="329.36" x2="101.28" y2="324.36"/>
<line x1="105.51" y1="329.16" x2="110.11" y2="324.56"/>
<line x1="114.55" y1="329.16" x2="119.15" y2="324.56"/>
<line x1="122.68" y1="330.06" x2="129.08" y2="323.66"/>
<line x1="134.01" y1="327.76" x2="135.81" y2="325.96"/>
<line x1="150.88" y1="328.96" x2="155.08" y2="324.76"/>
<line x1="160.11" y1="328.76" x2="163.91" y2="324.96"/>
<line x1="168.54" y1="329.36" x2="173.54" y2="324.36"/>
<line x1="178.58" y1="328.36" x2="181.58" y2="325.36"/>
<line x1="187.41" y1="328.56" x2="190.81" y2="325.16"/>
<line x1="195.64" y1="329.36" x2="200.64" y2="324.36"/>
<line x1="206.08" y1="327.96" x2="208.28" y2="325.76"/>
<line x1="25.42" y1="337.74" x2="27.62" y2="335.54"/>
<line x1="34.05" y1="338.14" x2="37.05" y2="335.14"/>
<line x1="43.48" y1="337.74" x2="45.68" y2="335.54"/>
<line x1="52.52" y1="337.74" x2="54.72" y2="335.54"/>
<line x1="60.95" y1="338.34" x2="64.35" y2="334.94"/>
<line x1="69.98" y1="338.34" x2="73.38" y2="334.94"/>
<line x1="79.81" y1="337.54" x2="81.61" y2="335.74"/>
<line x1="88.45" y1="337.94" x2="91.05" y2="335.34"/>
<line x1="97.08" y1="338.34" x2="100.48" y2="334.94"/>
<line x1="106.51" y1="337.94" x2="109.11" y2="335.34"/>
<line x1="114.75" y1="338.74" x2="118.95" y2="334.54"/>
<line x1="123.98" y1="338.54" x2="127.78" y2="334.74"/>
<line x1="133.21" y1="338.34" x2="136.61" y2="334.94"/>
<line x1="150.88" y1="338.74" x2="155.08" y2="334.54"/>
<line x1="160.71" y1="337.94" x2="163.31" y2="335.34"/>
<line x1="168.54" y1="339.14" x2="173.54" y2="334.14"/>
<line x1="177.58" y1="339.14" x2="182.58" y2="334.14"/>
<line x1="187.61" y1="338.14" x2="190.61" y2="335.14"/>
<line x1="195.84" y1="338.94" x2="200.44" y2="334.34"/>
<line x1="203.98" y1="339.84" x2="210.38" y2="333.44"/>
<line x1="24.62" y1="348.33" x2="28.42" y2="344.53"/>
<line x1="34.45" y1="347.53" x2="36.65" y2="345.33"/>
<line x1="51.92" y1="348.13" x2="55.32" y2="344.73"/>
<line x1="61.75" y1="347.33" x2="63.55" y2="345.53"/>
<line x1="68.48" y1="349.63" x2="74.88" y2="343.23"/>
<line x1="79.41" y1="347.73" x2="82.01" y2="345.13"/>
<line x1="87.65" y1="348.53" x2="91.85" y2="344.33"/>
<line x1="97.68" y1="347.53" x2="99.88" y2="345.33"/>
<line x1="106.11" y1="348.13" x2="109.51" y2="344.73"/>
<line x1="115.95" y1="347.33" x2="117.75" y2="345.53"/>
<line x1="123.98" y1="348.33" x2="127.78" y2="344.53"/>
<line x1="133.81" y1="347.53" x2="136.01" y2="345.33"/>
<line x1="142.25" y1="348.13" x2="145.65" y2="344.73"/>
<line x1="151.88" y1="347.53" x2="154.08" y2="345.33"/>
<line x1="160.51" y1="347.93" x2="163.51" y2="344.93"/>
<line x1="169.54" y1="347.93" x2="172.54" y2="344.93"/>
<line x1="178.98" y1="347.53" x2="181.18" y2="345.33"/>
<line x1="187.41" y1="348.13" x2="190.81" y2="344.73"/>
<line x1="197.04" y1="347.53" x2="199.24" y2="345.33"/>
<line x1="204.88" y1="348.73" x2="209.48" y2="344.13"/>
<line x1="25.62" y1="357.11" x2="27.42" y2="355.31"/>
<line x1="33.65" y1="358.11" x2="37.45" y2="354.31"/>
<line x1="42.08" y1="358.71" x2="47.08" y2="353.71"/>
<line x1="51.52" y1="358.31" x2="55.72" y2="354.11"/>
<line x1="60.95" y1="357.91" x2="64.35" y2="354.51"/>
<line x1="70.18" y1="357.71" x2="73.18" y2="354.71"/>
<line x1="79.41" y1="357.51" x2="82.01" y2="354.91"/>
<line x1="88.85" y1="357.11" x2="90.65" y2="355.31"/>
<line x1="96.28" y1="358.71" x2="101.28" y2="353.71"/>
<line x1="104.61" y1="359.41" x2="111.01" y2="353.01"/>
<line x1="115.35" y1="357.71" x2="118.35" y2="354.71"/>
<line x1="124.78" y1="357.31" x2="126.98" y2="355.11"/>
<line x1="133.61" y1="357.51" x2="136.21" y2="354.91"/>
<line x1="142.25" y1="357.91" x2="145.65" y2="354.51"/>
<line x1="152.08" y1="357.11" x2="153.88" y2="355.31"/>
<line x1="160.71" y1="357.51" x2="163.31" y2="354.91"/>
<line x1="178.58" y1="357.71" x2="181.58" y2="354.71"/>
<line x1="187.41" y1="357.91" x2="190.81" y2="354.51"/>
<line x1="196.24" y1="358.11" x2="200.04" y2="354.31"/>
<line x1="205.48" y1="357.91" x2="208.88" y2="354.51"/>
<line x1="24.02" y1="368.50" x2="29.02" y2="363.50"/>
<line x1="34.05" y1="367.50" x2="37.05" y2="364.50"/>
<line x1="42.88" y1="367.70" x2="46.28" y2="364.30"/>
<line x1="51.32" y1="368.30" x2="55.92" y2="363.70"/>
<line x1="60.15" y1="368.50" x2="65.15" y2="363.50"/>
<line x1="69.78" y1="367.90" x2="73.58" y2="364.10"/>
<line x1="88.45" y1="367.30" x2="91.05" y2="364.70"/>
<line x1="97.08" y1="367.70" x2="100.48" y2="364.30"/>
<line x1="105.91" y1="367.90" x2="109.71" y2="364.10"/>
<line x1="115.95" y1="366.90" x2="117.75" y2="365.10"/>
<line x1="124.18" y1="367.70" x2="127.58" y2="364.30"/>
<line x1="134.01" y1="366.90" x2="135.81" y2="365.10"/>
<line x1="143.05" y1="366.90" x2="144.85" y2="365.10"/>
<line x1="152.08" y1="366.90" x2="153.88" y2="365.10"/>
<line x1="158.81" y1="369.20" x2="165.21" y2="362.80"/>
<line x1="168.54" y1="368.50" x2="173.54" y2="363.50"/>
<line x1="177.58" y1="368.50" x2="182.58" y2="363.50"/>
<line x1="187.61" y1="367.50" x2="190.61" y2="364.50"/>
<line x1="195.64" y1="368.50" x2="200.64" y2="363.50"/>
<line x1="204.88" y1="368.30" x2="209.48" y2="363.70"/>
</g>
<g fill="#2a2a2a">
<circle cx="62.65" cy="91.99" r="1.45"/>
<circle cx="98.78" cy="101.78" r="1.45"/>
<circle cx="125.88" cy="111.56" r="1.45"/>
<circle cx="171.04" cy="121.35" r="1.45"/>
<circle cx="134.91" cy="131.14" r="1.45"/>
<circle cx="89.75" cy="140.92" r="1.45"/>
<circle cx="143.95" cy="150.71" r="1.45"/>
<circle cx="152.98" cy="160.49" r="1.45"/>
<circle cx="98.78" cy="170.28" r="1.45"/>
<circle cx="125.88" cy="180.07" r="1.45"/>
<circle cx="143.95" cy="189.85" r="1.45"/>
<circle cx="26.52" cy="199.64" r="1.45"/>
<circle cx="143.95" cy="209.42" r="1.45"/>
<circle cx="152.98" cy="219.21" r="1.45"/>
<circle cx="143.95" cy="229.00" r="1.45"/>
<circle cx="189.11" cy="238.78" r="1.45"/>
<circle cx="143.95" cy="248.57" r="1.45"/>
<circle cx="71.68" cy="258.35" r="1.45"/>
<circle cx="125.88" cy="268.14" r="1.45"/>
<circle cx="152.98" cy="277.93" r="1.45"/>
<circle cx="143.95" cy="287.71" r="1.45"/>
<circle cx="189.11" cy="297.50" r="1.45"/>
<circle cx="143.95" cy="307.28" r="1.45"/>
<circle cx="143.95" cy="317.07" r="1.45"/>
<circle cx="143.95" cy="326.86" r="1.45"/>
<circle cx="143.95" cy="336.64" r="1.45"/>
<circle cx="44.58" cy="346.43" r="1.45"/>
<circle cx="171.04" cy="356.21" r="1.45"/>
<circle cx="80.71" cy="366.00" r="1.45"/>
</g>
<text x="18.1" y="94.49" font-size="8.0" text-anchor="end" textLength="11.0" lengthAdjust="spacingAndGlyphs" fill="#222">488</text>
<text x="218.4" y="94.49" font-size="7.8" text-anchor="middle" fill="#222">E</text>
<text x="18.1" y="104.28" font-size="8.0" text-anchor="end" textLength="11.0" lengthAdjust="spacingAndGlyphs" fill="#222">489</text>
<text x="218.4" y="104.28" font-size="7.8" text-anchor="middle" fill="#222">T</text>
<text x="18.1" y="114.06" font-size="8.0" text-anchor="end" textLength="11.0" lengthAdjust="spacingAndGlyphs" fill="#222">490</text>
<text x="218.4" y="114.06" font-size="7.8" text-anchor="middle" fill="#222">A</text>
<text x="18.1" y="123.85" font-size="8.0" text-anchor="end" textLength="11.0" lengthAdjust="spacingAndGlyphs" fill="#222">491</text>
<text x="218.4" y="123.85" font-size="7.8" text-anchor="middle" fill="#222">W</text>
<text x="18.1" y="133.64" font-size="8.0" text-anchor="end" textLength="11.0" lengthAdjust="spacingAndGlyphs" fill="#222">492</text>
<text x="218.4" y="133.64" font-size="7.8" text-anchor="middle" fill="#222">I</text>
<text x="18.1" y="143.42" font-size="8.0" text-anchor="end" textLength="11.0" lengthAdjust="spacingAndGlyphs" fill="#222">493</text>
<text x="218.4" y="143.42" font-size="7.8" text-anchor="middle" fill="#222">S</text>
<text x="18.1" y="153.21" font-size="8.0" text-anchor="end" textLength="11.0" lengthAdjust="spacingAndGlyphs" fill="#222">494</text>
<text x="218.4" y="153.21" font-size="7.8" text-anchor="middle" fill="#222">L</text>
<text x="18.1" y="162.99" font-size="8.0" text-anchor="end" textLength="11.0" lengthAdjust="spacingAndGlyphs" fill="#222">495</text>
<text x="218.4" y="162.99" font-size="7.8" text-anchor="middle" fill="#222">V</text>
<text x="18.1" y="172.78" font-size="8.0" text-anchor="end" textLength="11.0" lengthAdjust="spacingAndGlyphs" fill="#222">496</text>
<text x="218.4" y="172.78" font-size="7.8" text-anchor="middle" fill="#222">T</text>
<text x="18.1" y="182.57" font-size="8.0" text-anchor="end" textLength="11.0" lengthAdjust="spacingAndGlyphs" fill="#222">497</text>
<text x="218.4" y="182.57" font-size="7.8" text-anchor="middle" fill="#222">A</text>
<text x="18.1" y="192.35" font-size="8.0" text-anchor="end" textLength="11.0" lengthAdjust="spacingAndGlyphs" fill="#222">498</text>
<text x="218.4" y="192.35" font-size="7.8" text-anchor="middle" fill="#222">L</text>
<text x="18.1" y="202.14" font-size="8.0" text-anchor="end" textLength="11.0" lengthAdjust="spacingAndGlyphs" fill="#222">499</text>
<text x="218.4" y="202.14" font-size="7.8" text-anchor="middle" fill="#222">H</text>
<text x="18.1" y="211.92" font-size="8.0" text-anchor="end" textLength="11.0" lengthAdjust="spacingAndGlyphs" fill="#222">500</text>
<text x="218.4" y="211.92" font-size="7.8" text-anchor="middle" fill="#222">L</text>
<text x="18.1" y="221.71" font-size="8.0" text-anchor="end" textLength="11.0" lengthAdjust="spacingAndGlyphs" fill="#222">501</text>
<text x="218.4" y="221.71" font-size="7.8" text-anchor="middle" fill="#222">V</text>
<text x="18.1" y="231.50" font-size="8.0" text-anchor="end" textLength="11.0" lengthAdjust="spacingAndGlyphs" fill="#222">502</text>
<text x="218.4" y="231.50" font-size="7.8" text-anchor="middle" fill="#222">L</text>
<text x="18.1" y="241.28" font-size="8.0" text-anchor="end" textLength="11.0" lengthAdjust="spacingAndGlyphs" fill="#222">503</text>
<text x="218.4" y="241.28" font-size="7.8" text-anchor="middle" fill="#222">G</text>
<text x="18.1" y="251.07" font-size="8.0" text-anchor="end" textLength="11.0" lengthAdjust="spacingAndGlyphs" fill="#222">504</text>
<text x="218.4" y="251.07" font-size="7.8" text-anchor="middle" fill="#222">L</text>
<text x="18.1" y="260.85" font-size="8.0" text-anchor="end" textLength="11.0" lengthAdjust="spacingAndGlyphs" fill="#222">505</text>
<text x="218.4" y="260.85" font-size="7.8" text-anchor="middle" fill="#222">N</text>
<text x="18.1" y="270.64" font-size="8.0" text-anchor="end" textLength="11.0" lengthAdjust="spacingAndGlyphs" fill="#222">506</text>
<text x="218.4" y="270.64" font-size="7.8" text-anchor="middle" fill="#222">A</text>
<text x="18.1" y="280.43" font-size="8.0" text-anchor="end" textLength="11.0" lengthAdjust="spacingAndGlyphs" fill="#222">507</text>
<text x="218.4" y="280.43" font-size="7.8" text-anchor="middle" fill="#222">V</text>
<text x="18.1" y="290.21" font-size="8.0" text-anchor="end" textLength="11.0" lengthAdjust="spacingAndGlyphs" fill="#222">508</text>
<text x="218.4" y="290.21" font-size="7.8" text-anchor="middle" fill="#222">L</text>
<text x="18.1" y="300.00" font-size="8.0" text-anchor="end" textLength="11.0" lengthAdjust="spacingAndGlyphs" fill="#222">509</text>
<text x="218.4" y="300.00" font-size="7.8" text-anchor="middle" fill="#222">G</text>
<text x="18.1" y="309.78" font-size="8.0" text-anchor="end" textLength="11.0" lengthAdjust="spacingAndGlyphs" fill="#222">510</text>
<text x="218.4" y="309.78" font-size="7.8" text-anchor="middle" fill="#222">L</text>
<text x="18.1" y="319.57" font-size="8.0" text-anchor="end" textLength="11.0" lengthAdjust="spacingAndGlyphs" fill="#222">511</text>
<text x="218.4" y="319.57" font-size="7.8" text-anchor="middle" fill="#222">L</text>
<text x="18.1" y="329.36" font-size="8.0" text-anchor="end" textLength="11.0" lengthAdjust="spacingAndGlyphs" fill="#222">512</text>
<text x="218.4" y="329.36" font-size="7.8" text-anchor="middle" fill="#222">L</text>
<text x="18.1" y="339.14" font-size="8.0" text-anchor="end" textLength="11.0" lengthAdjust="spacingAndGlyphs" fill="#222">513</text>
<text x="218.4" y="339.14" font-size="7.8" text-anchor="middle" fill="#222">L</text>
<text x="18.1" y="348.93" font-size="8.0" text-anchor="end" textLength="11.0" lengthAdjust="spacingAndGlyphs" fill="#222">514</text>
<text x="218.4" y="348.93" font-size="7.8" text-anchor="middle" fill="#222">R</text>
<text x="18.1" y="358.71" font-size="8.0" text-anchor="end" textLength="11.0" lengthAdjust="spacingAndGlyphs" fill="#222">515</text>
<text x="218.4" y="358.71" font-size="7.8" text-anchor="middle" fill="#222">W</text>
<text x="18.1" y="368.50" font-size="8.0" text-anchor="end" textLength="11.0" lengthAdjust="spacingAndGlyphs" fill="#222">516</text>
<text x="218.4" y="368.50" font-size="7.8" text-anchor="middle" fill="#222">Q</text>
<text x="26.52" y="81.3" font-size="7.2" text-anchor="middle" fill="#222">H</text>
<text x="35.55" y="81.3" font-size="7.2" text-anchor="middle" fill="#222">K</text>
<text x="44.58" y="81.3" font-size="7.2" text-anchor="middle" fill="#222">R</text>
<text x="53.62" y="81.3" font-size="7.2" text-anchor="middle" fill="#222">D</text>
<text x="62.65" y="81.3" font-size="7.2" text-anchor="middle" fill="#222">E</text>
<text x="71.68" y="81.3" font-size="7.2" text-anchor="middle" fill="#222">N</text>
<text x="80.71" y="81.3" font-size="7.2" text-anchor="middle" fill="#222">Q</text>
<text x="89.75" y="81.3" font-size="7.2" text-anchor="middle" fill="#222">S</text>
<text x="98.78" y="81.3" font-size="7.2" text-anchor="middle" fill="#222">T</text>
<text x="107.81" y="81.3" font-size="7.2" text-anchor="middle" fill="#222">C</text>
<text x="116.85" y="81.3" font-size="7.2" text-anchor="middle" fill="#222">M</text>
<text x="125.88" y="81.3" font-size="7.2" text-anchor="middle" fill="#222">A</text>
<text x="134.91" y="81.3" font-size="7.2" text-anchor="middle" fill="#222">I</text>
<text x="143.95" y="81.3" font-size="7.2" text-anchor="middle" fill="#222">L</text>
<text x="152.98" y="81.3" font-size="7.2" text-anchor="middle" fill="#222">V</text>
<text x="162.01" y="81.3" font-size="7.2" text-anchor="middle" fill="#222">F</text>
<text x="171.04" y="81.3" font-size="7.2" text-anchor="middle" fill="#222">W</text>
<text x="180.08" y="81.3" font-size="7.2" text-anchor="middle" fill="#222">Y</text>
<text x="189.11" y="81.3" font-size="7.2" text-anchor="middle" fill="#222">G</text>
<text x="198.14" y="81.3" font-size="7.2" text-anchor="middle" fill="#222">P</text>
<text x="207.18" y="81.5" font-size="7" text-anchor="middle" fill="#222">*</text>
<line x1="22.80" y1="70.8" x2="48.30" y2="70.8" stroke="#555" stroke-width="0.9"/>
<text x="35.30" y="67.6" font-size="6.2" text-anchor="middle" textLength="6.8" lengthAdjust="spacingAndGlyphs" fill="#333">(+)</text>
<line x1="49.90" y1="70.8" x2="66.36" y2="70.8" stroke="#555" stroke-width="0.9"/>
<text x="58.00" y="67.6" font-size="6.2" text-anchor="middle" textLength="4.9" lengthAdjust="spacingAndGlyphs" fill="#333">(-)</text>
<line x1="67.96" y1="70.8" x2="120.56" y2="70.8" stroke="#555" stroke-width="0.9"/>
<text x="94.30" y="67.6" font-size="6.2" text-anchor="middle" textLength="31.7" lengthAdjust="spacingAndGlyphs" fill="#333">Polar/neutral</text>
<line x1="122.16" y1="70.8" x2="156.69" y2="70.8" stroke="#555" stroke-width="0.9"/>
<text x="139.30" y="67.6" font-size="6.2" text-anchor="middle" textLength="24.6" lengthAdjust="spacingAndGlyphs" fill="#333">Non-polar</text>
<line x1="158.30" y1="70.8" x2="183.79" y2="70.8" stroke="#555" stroke-width="0.9"/>
<text x="171.10" y="67.6" font-size="6.2" text-anchor="middle" textLength="22.3" lengthAdjust="spacingAndGlyphs" fill="#333">Aromatic</text>
<line x1="185.39" y1="70.8" x2="201.86" y2="70.8" stroke="#555" stroke-width="0.9"/>
<text x="193.50" y="67.6" font-size="6.2" text-anchor="middle" textLength="17.4" lengthAdjust="spacingAndGlyphs" fill="#333">Unique</text>
<path d="M20.7,61.9 V52.3 H72.1" fill="none" stroke="#333" stroke-width="1.1"/>
<path d="M169,52.3 H224 V61.7" fill="none" stroke="#333" stroke-width="1.1"/>
<text x="122.4" y="56.0" font-size="7.5" text-anchor="middle" textLength="71.9" lengthAdjust="spacingAndGlyphs" fill="#222">Substituting Amino Acid</text>
<text x="32.7" y="30.9" font-size="10.2" textLength="176.8" lengthAdjust="spacingAndGlyphs" fill="#111">Variant Enrichment at 48 Hours No Cytokines</text>
<text x="22.1" y="42.6" font-size="6.2" fill="#333" textLength="198.8" lengthAdjust="spacingAndGlyphs"><tspan fill="#d6302a">Red</tspan> = Enriched relative to S505N alone; <tspan fill="#3a86c8">Blue</tspan> = Depleted relative to S505N alone</text>
<defs><linearGradient id="cb" x1="0" x2="1" y1="0" y2="0"><stop offset="0" stop-color="#053061"/><stop offset="0.13" stop-color="#2166ac"/><stop offset="0.30" stop-color="#4393c3"/><stop offset="0.44" stop-color="#92c5de"/><stop offset="0.53" stop-color="#d1e5f0"/><stop offset="0.585" stop-color="#f7f7f7"/><stop offset="0.66" stop-color="#fddbc7"/><stop offset="0.76" stop-color="#f4a582"/><stop offset="0.86" stop-color="#d6604d"/><stop offset="0.93" stop-color="#b2182b"/><stop offset="1" stop-color="#67001f"/></linearGradient></defs>
<rect x="22" y="373.5" width="189.6" height="9.3" fill="url(#cb)"/>
<text x="44.4" y="392" font-size="7" text-anchor="middle" fill="#222">-1.0</text>
<text x="88.8" y="392" font-size="7" text-anchor="middle" fill="#222">-0.5</text>
<text x="134" y="392" font-size="7" text-anchor="middle" fill="#222">0.0</text>
<text x="179.4" y="392" font-size="7" text-anchor="middle" fill="#222">0.5</text>
<text x="116.1" y="404.3" font-size="8.4" text-anchor="middle" textLength="81.5" lengthAdjust="spacingAndGlyphs" fill="#222">Log ratio enrichment score</text>
<text x="388.2" y="31.1" font-size="9.2" text-anchor="middle" textLength="126.8" lengthAdjust="spacingAndGlyphs" fill="#111">Competitive Growth of Selected</text>
<text x="388.3" y="42.0" font-size="9.2" text-anchor="middle" textLength="163" lengthAdjust="spacingAndGlyphs" fill="#111">Double Mutants Vs. S505N Single Mutant</text>
<text x="333.7" y="59.4" font-size="6.6" text-anchor="middle" textLength="84.6" lengthAdjust="spacingAndGlyphs" fill="#222">Growth of Challengers (GFP)</text>
<text x="333.8" y="67.0" font-size="6.6" text-anchor="middle" fill="#222">Vs.</text>
<text x="333.7" y="75.4" font-size="6.6" text-anchor="middle" textLength="50.7" lengthAdjust="spacingAndGlyphs" fill="#222">S505N (mCherry)</text>
<path d="M279.1,80.80 V166.10 M278.40,165.3 H386" stroke="#111" stroke-width="1.5" fill="none"/>
<line x1="276.10" y1="165.30" x2="279.10" y2="165.30" stroke="#111" stroke-width="1.2"/>
<text x="274.1" y="167.90" font-size="7.2" text-anchor="end" fill="#222">0</text>
<line x1="276.10" y1="144.30" x2="279.10" y2="144.30" stroke="#111" stroke-width="1.2"/>
<text x="274.1" y="146.90" font-size="7.2" text-anchor="end" fill="#222">5</text>
<line x1="276.10" y1="123.30" x2="279.10" y2="123.30" stroke="#111" stroke-width="1.2"/>
<text x="274.1" y="125.90" font-size="7.2" text-anchor="end" textLength="7.4" lengthAdjust="spacingAndGlyphs" fill="#222">10</text>
<line x1="276.10" y1="102.30" x2="279.10" y2="102.30" stroke="#111" stroke-width="1.2"/>
<text x="274.1" y="104.90" font-size="7.2" text-anchor="end" textLength="7.4" lengthAdjust="spacingAndGlyphs" fill="#222">15</text>
<line x1="276.10" y1="81.30" x2="279.10" y2="81.30" stroke="#111" stroke-width="1.2"/>
<text x="274.1" y="83.90" font-size="7.2" text-anchor="end" textLength="7.4" lengthAdjust="spacingAndGlyphs" fill="#222">20</text>
<line x1="279.10" y1="165.30" x2="279.10" y2="168.10" stroke="#111" stroke-width="1.2"/>
<text x="279.10" y="179.6" font-size="7.2" text-anchor="middle" fill="#222">0</text>
<line x1="305.33" y1="165.30" x2="305.33" y2="168.10" stroke="#111" stroke-width="1.2"/>
<text x="305.33" y="179.6" font-size="7.2" text-anchor="middle" textLength="7.4" lengthAdjust="spacingAndGlyphs" fill="#222">24</text>
<line x1="331.55" y1="165.30" x2="331.55" y2="168.10" stroke="#111" stroke-width="1.2"/>
<text x="331.55" y="179.6" font-size="7.2" text-anchor="middle" textLength="7.4" lengthAdjust="spacingAndGlyphs" fill="#222">48</text>
<line x1="357.77" y1="165.30" x2="357.77" y2="168.10" stroke="#111" stroke-width="1.2"/>
<text x="357.77" y="179.6" font-size="7.2" text-anchor="middle" textLength="7.4" lengthAdjust="spacingAndGlyphs" fill="#222">72</text>
<line x1="384.00" y1="165.30" x2="384.00" y2="168.10" stroke="#111" stroke-width="1.2"/>
<text x="384.00" y="179.6" font-size="7.2" text-anchor="middle" textLength="7.4" lengthAdjust="spacingAndGlyphs" fill="#222">96</text>
<polyline points="279.10,161.10 305.33,159.42 331.55,156.90 357.77,153.54 384.00,151.86" fill="none" stroke="#b0c488" stroke-width="1.3"/>
<circle cx="279.10" cy="161.10" r="1.61" fill="#b0c488"/>
<circle cx="305.33" cy="159.42" r="1.61" fill="#b0c488"/>
<circle cx="331.55" cy="156.90" r="1.61" fill="#b0c488"/>
<circle cx="357.77" cy="153.54" r="1.61" fill="#b0c488"/>
<circle cx="384.00" cy="151.86" r="1.61" fill="#b0c488"/>
<polyline points="279.10,161.94 305.33,160.68 331.55,155.64 357.77,154.80 384.00,153.12" fill="none" stroke="#b4b4dc" stroke-width="1.3"/>
<path d="M277.20,163.46 L281.00,163.46 L279.10,160.04Z" fill="#b4b4dc"/>
<path d="M303.43,162.20 L307.23,162.20 L305.33,158.78Z" fill="#b4b4dc"/>
<path d="M329.65,157.16 L333.45,157.16 L331.55,153.74Z" fill="#b4b4dc"/>
<path d="M355.88,156.32 L359.67,156.32 L357.77,152.90Z" fill="#b4b4dc"/>
<path d="M382.10,154.64 L385.90,154.64 L384.00,151.22Z" fill="#b4b4dc"/>
<polyline points="279.10,161.10 305.33,159.00 331.55,157.74 357.77,156.90 384.00,157.32" fill="none" stroke="#66b046" stroke-width="1.3"/>
<circle cx="279.10" cy="161.10" r="1.61" fill="#66b046"/>
<circle cx="305.33" cy="159.00" r="1.61" fill="#66b046"/>
<circle cx="331.55" cy="157.74" r="1.61" fill="#66b046"/>
<circle cx="357.77" cy="156.90" r="1.61" fill="#66b046"/>
<circle cx="384.00" cy="157.32" r="1.61" fill="#66b046"/>
<polyline points="279.10,161.10 305.33,156.06 331.55,152.28 357.77,149.76 384.00,148.92" fill="none" stroke="#4a1f6c" stroke-width="1.3"/>
<rect x="277.58" y="159.58" width="3.04" height="3.04" fill="#4a1f6c"/>
<rect x="303.81" y="154.54" width="3.04" height="3.04" fill="#4a1f6c"/>
<rect x="330.03" y="150.76" width="3.04" height="3.04" fill="#4a1f6c"/>
<rect x="356.25" y="148.24" width="3.04" height="3.04" fill="#4a1f6c"/>
<rect x="382.48" y="147.40" width="3.04" height="3.04" fill="#4a1f6c"/>
<polyline points="279.10,161.10 305.33,156.90 331.55,152.70 357.77,145.14 384.00,138.42" fill="none" stroke="#2a59a2" stroke-width="1.3"/>
<rect x="277.58" y="159.58" width="3.04" height="3.04" fill="#2a59a2"/>
<rect x="303.81" y="155.38" width="3.04" height="3.04" fill="#2a59a2"/>
<rect x="330.03" y="151.18" width="3.04" height="3.04" fill="#2a59a2"/>
<rect x="356.25" y="143.62" width="3.04" height="3.04" fill="#2a59a2"/>
<rect x="382.48" y="136.90" width="3.04" height="3.04" fill="#2a59a2"/>
<polyline points="279.10,161.10 305.33,156.90 331.55,151.44 357.77,138.84 384.00,129.18" fill="none" stroke="#5b6b84" stroke-width="1.3"/>
<path d="M357.77,137.58 V140.10 M356.27,137.58 H359.27 M356.27,140.10 H359.27" stroke="#5b6b84" stroke-width="0.8" fill="none"/>
<path d="M384.00,126.66 V131.70 M382.50,126.66 H385.50 M382.50,131.70 H385.50" stroke="#5b6b84" stroke-width="0.8" fill="none"/>
<circle cx="279.10" cy="161.10" r="1.61" fill="#5b6b84"/>
<circle cx="305.33" cy="156.90" r="1.61" fill="#5b6b84"/>
<circle cx="331.55" cy="151.44" r="1.61" fill="#5b6b84"/>
<circle cx="357.77" cy="138.84" r="1.61" fill="#5b6b84"/>
<circle cx="384.00" cy="129.18" r="1.61" fill="#5b6b84"/>
<polyline points="279.10,161.10 305.33,155.22 331.55,148.92 357.77,137.58 384.00,122.88" fill="none" stroke="#2a6b4e" stroke-width="1.3"/>
<path d="M357.77,136.32 V138.84 M356.27,136.32 H359.27 M356.27,138.84 H359.27" stroke="#2a6b4e" stroke-width="0.8" fill="none"/>
<path d="M384.00,120.78 V124.98 M382.50,120.78 H385.50 M382.50,124.98 H385.50" stroke="#2a6b4e" stroke-width="0.8" fill="none"/>
<path d="M277.20,159.58 L281.00,159.58 L279.10,163.00Z" fill="#2a6b4e"/>
<path d="M303.43,153.70 L307.23,153.70 L305.33,157.12Z" fill="#2a6b4e"/>
<path d="M329.65,147.40 L333.45,147.40 L331.55,150.82Z" fill="#2a6b4e"/>
<path d="M355.88,136.06 L359.67,136.06 L357.77,139.48Z" fill="#2a6b4e"/>
<path d="M382.10,121.36 L385.90,121.36 L384.00,124.78Z" fill="#2a6b4e"/>
<polyline points="279.10,161.10 305.33,153.96 331.55,147.24 357.77,132.54 384.00,115.32" fill="none" stroke="#c47c30" stroke-width="1.3"/>
<path d="M331.55,145.98 V148.50 M330.05,145.98 H333.05 M330.05,148.50 H333.05" stroke="#c47c30" stroke-width="0.8" fill="none"/>
<path d="M357.77,131.28 V133.80 M356.27,131.28 H359.27 M356.27,133.80 H359.27" stroke="#c47c30" stroke-width="0.8" fill="none"/>
<path d="M384.00,112.38 V118.26 M382.50,112.38 H385.50 M382.50,118.26 H385.50" stroke="#c47c30" stroke-width="0.8" fill="none"/>
<path d="M277.20,162.62 L281.00,162.62 L279.10,159.20Z" fill="#c47c30"/>
<path d="M303.43,155.48 L307.23,155.48 L305.33,152.06Z" fill="#c47c30"/>
<path d="M329.65,148.76 L333.45,148.76 L331.55,145.34Z" fill="#c47c30"/>
<path d="M355.88,134.06 L359.67,134.06 L357.77,130.64Z" fill="#c47c30"/>
<path d="M382.10,116.84 L385.90,116.84 L384.00,113.42Z" fill="#c47c30"/>
<polyline points="279.10,161.10 305.33,153.54 331.55,143.46 357.77,122.04 384.00,97.68" fill="none" stroke="#b01a42" stroke-width="1.3"/>
<path d="M305.33,152.28 V154.80 M303.83,152.28 H306.83 M303.83,154.80 H306.83" stroke="#b01a42" stroke-width="0.8" fill="none"/>
<path d="M331.55,141.36 V145.56 M330.05,141.36 H333.05 M330.05,145.56 H333.05" stroke="#b01a42" stroke-width="0.8" fill="none"/>
<path d="M357.77,119.52 V124.56 M356.27,119.52 H359.27 M356.27,124.56 H359.27" stroke="#b01a42" stroke-width="0.8" fill="none"/>
<path d="M384.00,85.92 V109.44 M382.50,85.92 H385.50 M382.50,109.44 H385.50" stroke="#b01a42" stroke-width="0.8" fill="none"/>
<path d="M277.20,159.58 L281.00,159.58 L279.10,163.00Z" fill="#b01a42"/>
<path d="M303.43,152.02 L307.23,152.02 L305.33,155.44Z" fill="#b01a42"/>
<path d="M329.65,141.94 L333.45,141.94 L331.55,145.36Z" fill="#b01a42"/>
<path d="M355.88,120.52 L359.67,120.52 L357.77,123.94Z" fill="#b01a42"/>
<path d="M382.10,96.16 L385.90,96.16 L384.00,99.58Z" fill="#b01a42"/>
<polyline points="279.10,160.26 305.33,151.86 331.55,137.16 357.77,114.06 384.00,87.60" fill="none" stroke="#d8309c" stroke-width="1.3"/>
<path d="M279.10,159.00 V161.52 M277.60,159.00 H280.60 M277.60,161.52 H280.60" stroke="#d8309c" stroke-width="0.8" fill="none"/>
<path d="M305.33,150.60 V153.12 M303.83,150.60 H306.83 M303.83,153.12 H306.83" stroke="#d8309c" stroke-width="0.8" fill="none"/>
<path d="M331.55,134.64 V139.68 M330.05,134.64 H333.05 M330.05,139.68 H333.05" stroke="#d8309c" stroke-width="0.8" fill="none"/>
<path d="M357.77,107.34 V120.78 M356.27,107.34 H359.27 M356.27,120.78 H359.27" stroke="#d8309c" stroke-width="0.8" fill="none"/>
<path d="M384.00,81.72 V93.48 M382.50,81.72 H385.50 M382.50,93.48 H385.50" stroke="#d8309c" stroke-width="0.8" fill="none"/>
<circle cx="279.10" cy="160.26" r="1.61" fill="#d8309c"/>
<circle cx="305.33" cy="151.86" r="1.61" fill="#d8309c"/>
<circle cx="331.55" cy="137.16" r="1.61" fill="#d8309c"/>
<circle cx="357.77" cy="114.06" r="1.61" fill="#d8309c"/>
<circle cx="384.00" cy="87.60" r="1.61" fill="#d8309c"/>
<polyline points="279.10,159.84 305.33,164.04 331.55,165.30 357.77,165.30 384.00,165.30" fill="none" stroke="#5aa6e0" stroke-width="2.0"/>
<path d="M276.60,159.84 L279.10,157.34 L281.60,159.84 L279.10,162.34Z" fill="#5aa6e0"/>
<path d="M302.83,164.04 L305.33,161.54 L307.83,164.04 L305.33,166.54Z" fill="#5aa6e0"/>
<path d="M329.05,165.30 L331.55,162.80 L334.05,165.30 L331.55,167.80Z" fill="#5aa6e0"/>
<path d="M355.27,165.30 L357.77,162.80 L360.27,165.30 L357.77,167.80Z" fill="#5aa6e0"/>
<path d="M381.50,165.30 L384.00,162.80 L386.50,165.30 L384.00,167.80Z" fill="#5aa6e0"/>
<text x="335.2" y="192.1" font-size="8.8" text-anchor="middle" textLength="96" lengthAdjust="spacingAndGlyphs" fill="#222">Hours after cytokine withdrawal</text>
<text transform="translate(261.0,122.3) rotate(-90)" x="0" y="0" font-size="8.2" text-anchor="middle" fill="#222" textLength="55.4" lengthAdjust="spacingAndGlyphs">GFP/mCherry ratio</text>
<text x="431" y="59.3" font-size="7" text-anchor="middle" fill="#222">Challenger</text>
<text x="431" y="67.0" font-size="7" text-anchor="middle" fill="#222">(GFP)</text>
<text x="493" y="59.3" font-size="7" text-anchor="middle" fill="#222">Doubling</text>
<text x="493" y="67.0" font-size="7" text-anchor="middle" fill="#222">Time (hrs)</text>
<line x1="407.2" y1="78.80" x2="413.4" y2="78.80" stroke="#5aa6e0" stroke-width="1"/>
<path d="M408.10,78.80 L410.30,76.60 L412.50,78.80 L410.30,81.00Z" fill="#5aa6e0"/>
<text x="416.8" y="81.30" font-size="7" fill="#222">WT</text>
<text x="486.5" y="81.30" font-size="7" text-anchor="middle" fill="#222">&gt;96</text>
<line x1="407.2" y1="88.38" x2="413.4" y2="88.38" stroke="#b0c488" stroke-width="1"/>
<circle cx="410.30" cy="88.38" r="1.87" fill="#b0c488"/>
<text x="416.8" y="90.88" font-size="7" fill="#222">S505N</text>
<text x="473.8" y="90.88" font-size="7" textLength="25.4" lengthAdjust="spacingAndGlyphs" fill="#222">12.1±0.8</text>
<line x1="407.2" y1="97.96" x2="413.4" y2="97.96" stroke="#c47c30" stroke-width="1"/>
<path d="M408.10,99.72 L412.50,99.72 L410.30,95.76Z" fill="#c47c30"/>
<text x="416.8" y="100.46" font-size="7" textLength="44" lengthAdjust="spacingAndGlyphs" fill="#222">S505N+S493A</text>
<text x="473.8" y="100.46" font-size="7" textLength="25.4" lengthAdjust="spacingAndGlyphs" fill="#222">10.7±1.0</text>
<text x="501.8" y="101.06" font-size="8.2" textLength="10.8" lengthAdjust="spacingAndGlyphs" fill="#222">****</text>
<line x1="407.2" y1="107.54" x2="413.4" y2="107.54" stroke="#b01a42" stroke-width="1"/>
<path d="M408.10,105.78 L412.50,105.78 L410.30,109.74Z" fill="#b01a42"/>
<text x="416.8" y="110.04" font-size="7" textLength="44" lengthAdjust="spacingAndGlyphs" fill="#222">S505N+H499A</text>
<text x="473.8" y="110.04" font-size="7" textLength="25.4" lengthAdjust="spacingAndGlyphs" fill="#222">10.0±1.0</text>
<text x="501.8" y="110.64" font-size="8.2" textLength="10.8" lengthAdjust="spacingAndGlyphs" fill="#222">****</text>
<line x1="407.2" y1="117.12" x2="413.4" y2="117.12" stroke="#d8309c" stroke-width="1"/>
<circle cx="410.30" cy="117.12" r="1.87" fill="#d8309c"/>
<text x="416.8" y="119.62" font-size="7" textLength="44" lengthAdjust="spacingAndGlyphs" fill="#222">S505N+V501A</text>
<text x="473.8" y="119.62" font-size="7" textLength="25.4" lengthAdjust="spacingAndGlyphs" fill="#222">10.2±1.0</text>
<text x="501.8" y="120.22" font-size="8.2" textLength="10.8" lengthAdjust="spacingAndGlyphs" fill="#222">****</text>
<line x1="407.2" y1="126.70" x2="413.4" y2="126.70" stroke="#4a1f6c" stroke-width="1"/>
<path d="M408.10,126.70 L410.30,124.50 L412.50,126.70 L410.30,128.90Z" fill="#4a1f6c"/>
<text x="416.8" y="129.20" font-size="7" textLength="44" lengthAdjust="spacingAndGlyphs" fill="#222">S505N+V501S</text>
<text x="473.8" y="129.20" font-size="7" textLength="25.4" lengthAdjust="spacingAndGlyphs" fill="#222">12.2±1.1</text>
<text x="502.0" y="129.20" font-size="7" textLength="10" lengthAdjust="spacingAndGlyphs" fill="#222">n.s.</text>
<line x1="407.2" y1="136.28" x2="413.4" y2="136.28" stroke="#2a59a2" stroke-width="1"/>
<rect x="408.54" y="134.52" width="3.52" height="3.52" fill="#2a59a2"/>
<text x="416.8" y="138.78" font-size="7" textLength="44" lengthAdjust="spacingAndGlyphs" fill="#222">S505N+G503A</text>
<text x="473.8" y="138.78" font-size="7" textLength="25.4" lengthAdjust="spacingAndGlyphs" fill="#222">11.3±0.8</text>
<text x="501.8" y="139.38" font-size="8.2" textLength="10.8" lengthAdjust="spacingAndGlyphs" fill="#222">****</text>
<line x1="407.2" y1="145.86" x2="413.4" y2="145.86" stroke="#b4b4dc" stroke-width="1"/>
<path d="M408.10,147.62 L412.50,147.62 L410.30,143.66Z" fill="#b4b4dc"/>
<text x="416.8" y="148.36" font-size="7" textLength="44" lengthAdjust="spacingAndGlyphs" fill="#222">S505N+L508A</text>
<text x="486.5" y="148.36" font-size="7" text-anchor="middle" fill="#222">&gt;96</text>
<line x1="407.2" y1="155.44" x2="413.4" y2="155.44" stroke="#2a6b4e" stroke-width="1"/>
<path d="M408.10,153.68 L412.50,153.68 L410.30,157.64Z" fill="#2a6b4e"/>
<text x="416.8" y="157.94" font-size="7" textLength="44" lengthAdjust="spacingAndGlyphs" fill="#222">S505N+G509L</text>
<text x="473.8" y="157.94" font-size="7" textLength="25.4" lengthAdjust="spacingAndGlyphs" fill="#222">10.6±1.1</text>
<text x="501.8" y="158.54" font-size="8.2" textLength="10.8" lengthAdjust="spacingAndGlyphs" fill="#222">****</text>
<line x1="407.2" y1="165.02" x2="413.4" y2="165.02" stroke="#66b046" stroke-width="1"/>
<circle cx="410.30" cy="165.02" r="1.87" fill="#66b046"/>
<text x="416.8" y="167.52" font-size="7" textLength="44" lengthAdjust="spacingAndGlyphs" fill="#222">S505N+R514C</text>
<text x="473.8" y="167.52" font-size="7" textLength="25.4" lengthAdjust="spacingAndGlyphs" fill="#222">13.9±1.1</text>
<text x="501.8" y="168.12" font-size="8.2" textLength="10.8" lengthAdjust="spacingAndGlyphs" fill="#222">****</text>
<line x1="407.2" y1="174.60" x2="413.4" y2="174.60" stroke="#5b6b84" stroke-width="1"/>
<circle cx="410.30" cy="174.60" r="1.87" fill="#5b6b84"/>
<text x="416.8" y="177.10" font-size="7" textLength="44" lengthAdjust="spacingAndGlyphs" fill="#222">S505N+R514K</text>
<text x="473.8" y="177.10" font-size="7" textLength="25.4" lengthAdjust="spacingAndGlyphs" fill="#222">11.0±1.0</text>
<text x="501.8" y="177.70" font-size="8.2" textLength="10.8" lengthAdjust="spacingAndGlyphs" fill="#222">****</text>
<text x="369.5" y="232.4" font-size="8.2" text-anchor="middle" textLength="154" lengthAdjust="spacingAndGlyphs" fill="#111">Competitive Growth of Patient-Derived</text>
<text x="369.5" y="244.5" font-size="8.2" text-anchor="middle" textLength="194.4" lengthAdjust="spacingAndGlyphs" fill="#111">H499G+V501S Double Mutant Vs. WT and V501S</text>
<polyline points="282.20,307.08 299.82,267.66 317.43,261.66 335.05,261.66 352.66,262.51" fill="none" stroke="#5aa6e0" stroke-width="1.3"/>
<path d="M282.20,297.65 V316.50 M280.60,297.65 H283.80 M280.60,316.50 H283.80" stroke="#5aa6e0" stroke-width="0.9" fill="none"/>
<path d="M299.82,265.94 V269.37 M298.22,265.94 H301.42 M298.22,269.37 H301.42" stroke="#5aa6e0" stroke-width="0.9" fill="none"/>
<rect x="280.60" y="305.48" width="3.20" height="3.20" fill="#5aa6e0"/>
<rect x="298.22" y="266.06" width="3.20" height="3.20" fill="#5aa6e0"/>
<rect x="315.83" y="260.06" width="3.20" height="3.20" fill="#5aa6e0"/>
<rect x="333.45" y="260.06" width="3.20" height="3.20" fill="#5aa6e0"/>
<rect x="351.06" y="260.91" width="3.20" height="3.20" fill="#5aa6e0"/>
<polyline points="282.20,301.94 299.82,340.50 317.43,346.50 335.05,346.50 352.66,345.64" fill="none" stroke="#5ea63c" stroke-width="1.3"/>
<path d="M282.20,290.80 V313.08 M280.60,290.80 H283.80 M280.60,313.08 H283.80" stroke="#5ea63c" stroke-width="0.9" fill="none"/>
<path d="M299.82,338.79 V342.21 M298.22,338.79 H301.42 M298.22,342.21 H301.42" stroke="#5ea63c" stroke-width="0.9" fill="none"/>
<path d="M280.20,303.54 L284.20,303.54 L282.20,299.94Z" fill="#5ea63c"/>
<path d="M297.82,342.10 L301.82,342.10 L299.82,338.50Z" fill="#5ea63c"/>
<path d="M315.43,348.10 L319.43,348.10 L317.43,344.50Z" fill="#5ea63c"/>
<path d="M333.05,348.10 L337.05,348.10 L335.05,344.50Z" fill="#5ea63c"/>
<path d="M350.66,347.24 L354.66,347.24 L352.66,343.64Z" fill="#5ea63c"/>
<path d="M282.2,260.30 V347.20 M281.50,346.5 H358.54" stroke="#111" stroke-width="1.4" fill="none"/>
<line x1="279.60" y1="346.50" x2="282.20" y2="346.50" stroke="#111" stroke-width="1.1"/>
<text x="275.90" y="348.90" font-size="6.6" text-anchor="end" fill="#222">0</text>
<line x1="279.60" y1="329.36" x2="282.20" y2="329.36" stroke="#111" stroke-width="1.1"/>
<text x="275.90" y="331.76" font-size="6.6" text-anchor="end" textLength="7.0" lengthAdjust="spacingAndGlyphs" fill="#222">20</text>
<line x1="279.60" y1="312.22" x2="282.20" y2="312.22" stroke="#111" stroke-width="1.1"/>
<text x="275.90" y="314.62" font-size="6.6" text-anchor="end" textLength="7.0" lengthAdjust="spacingAndGlyphs" fill="#222">40</text>
<line x1="279.60" y1="295.08" x2="282.20" y2="295.08" stroke="#111" stroke-width="1.1"/>
<text x="275.90" y="297.48" font-size="6.6" text-anchor="end" textLength="7.0" lengthAdjust="spacingAndGlyphs" fill="#222">60</text>
<line x1="279.60" y1="277.94" x2="282.20" y2="277.94" stroke="#111" stroke-width="1.1"/>
<text x="275.90" y="280.34" font-size="6.6" text-anchor="end" textLength="7.0" lengthAdjust="spacingAndGlyphs" fill="#222">80</text>
<line x1="279.60" y1="260.80" x2="282.20" y2="260.80" stroke="#111" stroke-width="1.1"/>
<text x="275.90" y="263.20" font-size="6.6" text-anchor="end" textLength="11.0" lengthAdjust="spacingAndGlyphs" fill="#222">100</text>
<line x1="282.20" y1="346.50" x2="282.20" y2="349.10" stroke="#111" stroke-width="1.1"/>
<text x="282.20" y="358.50" font-size="6.6" text-anchor="middle" fill="#222">0</text>
<line x1="296.88" y1="346.50" x2="296.88" y2="349.10" stroke="#111" stroke-width="1.1"/>
<text x="296.88" y="358.50" font-size="6.6" text-anchor="middle" textLength="7.0" lengthAdjust="spacingAndGlyphs" fill="#222">20</text>
<line x1="311.56" y1="346.50" x2="311.56" y2="349.10" stroke="#111" stroke-width="1.1"/>
<text x="311.56" y="358.50" font-size="6.6" text-anchor="middle" textLength="7.0" lengthAdjust="spacingAndGlyphs" fill="#222">40</text>
<line x1="326.24" y1="346.50" x2="326.24" y2="349.10" stroke="#111" stroke-width="1.1"/>
<text x="326.24" y="358.50" font-size="6.6" text-anchor="middle" textLength="7.0" lengthAdjust="spacingAndGlyphs" fill="#222">60</text>
<line x1="340.92" y1="346.50" x2="340.92" y2="349.10" stroke="#111" stroke-width="1.1"/>
<text x="340.92" y="358.50" font-size="6.6" text-anchor="middle" textLength="7.0" lengthAdjust="spacingAndGlyphs" fill="#222">80</text>
<line x1="355.60" y1="346.50" x2="355.60" y2="349.10" stroke="#111" stroke-width="1.1"/>
<text x="355.60" y="358.50" font-size="6.6" text-anchor="middle" textLength="11.0" lengthAdjust="spacingAndGlyphs" fill="#222">100</text>
<text x="320.70" y="370.90" font-size="8.4" text-anchor="middle" textLength="60.5" lengthAdjust="spacingAndGlyphs" fill="#222">Hours after cytokine</text>
<text x="320.70" y="381.10" font-size="8.4" text-anchor="middle" textLength="34" lengthAdjust="spacingAndGlyphs" fill="#222">withdrawal</text>
<text transform="translate(259.80,302.5) rotate(-90)" x="0" y="0" font-size="6.9" text-anchor="middle" fill="#222" textLength="80.5" lengthAdjust="spacingAndGlyphs">%variant in mixed culture</text>
<text x="325.5" y="282.3" font-size="6.8" text-anchor="middle" textLength="44" lengthAdjust="spacingAndGlyphs" fill="#5aa6e0">H499G+V501S</text>
<text x="325.5" y="290.7" font-size="6.8" text-anchor="middle" textLength="30" lengthAdjust="spacingAndGlyphs" fill="#5aa6e0">(mCherry)</text>
<text x="325.2" y="309.5" font-size="6.8" text-anchor="middle" fill="#111">Vs.</text>
<text x="325.5" y="328.5" font-size="6.8" text-anchor="middle" textLength="30" lengthAdjust="spacingAndGlyphs" fill="#5ea63c">WT (GFP)</text>
<polyline points="404.60,305.56 422.26,293.61 439.93,287.64 457.59,284.23 475.26,285.08" fill="none" stroke="#5aa6e0" stroke-width="1.3"/>
<path d="M404.60,302.14 V308.97 M403.00,302.14 H406.20 M403.00,308.97 H406.20" stroke="#5aa6e0" stroke-width="0.9" fill="none"/>
<path d="M422.26,288.50 V298.73 M420.66,288.50 H423.86 M420.66,298.73 H423.86" stroke="#5aa6e0" stroke-width="0.9" fill="none"/>
<path d="M439.93,283.38 V291.91 M438.33,283.38 H441.53 M438.33,291.91 H441.53" stroke="#5aa6e0" stroke-width="0.9" fill="none"/>
<path d="M457.59,280.82 V287.64 M455.99,280.82 H459.19 M455.99,287.64 H459.19" stroke="#5aa6e0" stroke-width="0.9" fill="none"/>
<path d="M475.26,281.67 V288.50 M473.66,281.67 H476.86 M473.66,288.50 H476.86" stroke="#5aa6e0" stroke-width="0.9" fill="none"/>
<rect x="403.00" y="303.96" width="3.20" height="3.20" fill="#5aa6e0"/>
<rect x="420.66" y="292.01" width="3.20" height="3.20" fill="#5aa6e0"/>
<rect x="438.33" y="286.04" width="3.20" height="3.20" fill="#5aa6e0"/>
<rect x="455.99" y="282.63" width="3.20" height="3.20" fill="#5aa6e0"/>
<rect x="473.66" y="283.48" width="3.20" height="3.20" fill="#5aa6e0"/>
<polyline points="404.60,303.85 422.26,314.94 439.93,320.91 457.59,323.47 475.26,323.47" fill="none" stroke="#5ea63c" stroke-width="1.3"/>
<path d="M404.60,297.88 V309.82 M403.00,297.88 H406.20 M403.00,309.82 H406.20" stroke="#5ea63c" stroke-width="0.9" fill="none"/>
<path d="M422.26,309.82 V320.06 M420.66,309.82 H423.86 M420.66,320.06 H423.86" stroke="#5ea63c" stroke-width="0.9" fill="none"/>
<path d="M439.93,316.64 V325.18 M438.33,316.64 H441.53 M438.33,325.18 H441.53" stroke="#5ea63c" stroke-width="0.9" fill="none"/>
<path d="M457.59,320.06 V326.88 M455.99,320.06 H459.19 M455.99,326.88 H459.19" stroke="#5ea63c" stroke-width="0.9" fill="none"/>
<path d="M475.26,320.06 V326.88 M473.66,320.06 H476.86 M473.66,326.88 H476.86" stroke="#5ea63c" stroke-width="0.9" fill="none"/>
<path d="M402.60,305.45 L406.60,305.45 L404.60,301.85Z" fill="#5ea63c"/>
<path d="M420.26,316.54 L424.26,316.54 L422.26,312.94Z" fill="#5ea63c"/>
<path d="M437.93,322.51 L441.93,322.51 L439.93,318.91Z" fill="#5ea63c"/>
<path d="M455.59,325.07 L459.59,325.07 L457.59,321.47Z" fill="#5ea63c"/>
<path d="M473.26,325.07 L477.26,325.07 L475.26,321.47Z" fill="#5ea63c"/>
<path d="M404.6,260.70 V347.20 M403.90,346.5 H481.14" stroke="#111" stroke-width="1.4" fill="none"/>
<line x1="402.00" y1="346.50" x2="404.60" y2="346.50" stroke="#111" stroke-width="1.1"/>
<text x="398.30" y="348.90" font-size="6.6" text-anchor="end" fill="#222">0</text>
<line x1="402.00" y1="329.44" x2="404.60" y2="329.44" stroke="#111" stroke-width="1.1"/>
<text x="398.30" y="331.84" font-size="6.6" text-anchor="end" textLength="7.0" lengthAdjust="spacingAndGlyphs" fill="#222">20</text>
<line x1="402.00" y1="312.38" x2="404.60" y2="312.38" stroke="#111" stroke-width="1.1"/>
<text x="398.30" y="314.78" font-size="6.6" text-anchor="end" textLength="7.0" lengthAdjust="spacingAndGlyphs" fill="#222">40</text>
<line x1="402.00" y1="295.32" x2="404.60" y2="295.32" stroke="#111" stroke-width="1.1"/>
<text x="398.30" y="297.72" font-size="6.6" text-anchor="end" textLength="7.0" lengthAdjust="spacingAndGlyphs" fill="#222">60</text>
<line x1="402.00" y1="278.26" x2="404.60" y2="278.26" stroke="#111" stroke-width="1.1"/>
<text x="398.30" y="280.66" font-size="6.6" text-anchor="end" textLength="7.0" lengthAdjust="spacingAndGlyphs" fill="#222">80</text>
<line x1="402.00" y1="261.20" x2="404.60" y2="261.20" stroke="#111" stroke-width="1.1"/>
<text x="398.30" y="263.60" font-size="6.6" text-anchor="end" textLength="11.0" lengthAdjust="spacingAndGlyphs" fill="#222">100</text>
<line x1="404.60" y1="346.50" x2="404.60" y2="349.10" stroke="#111" stroke-width="1.1"/>
<text x="404.60" y="358.50" font-size="6.6" text-anchor="middle" fill="#222">0</text>
<line x1="419.32" y1="346.50" x2="419.32" y2="349.10" stroke="#111" stroke-width="1.1"/>
<text x="419.32" y="358.50" font-size="6.6" text-anchor="middle" textLength="7.0" lengthAdjust="spacingAndGlyphs" fill="#222">20</text>
<line x1="434.04" y1="346.50" x2="434.04" y2="349.10" stroke="#111" stroke-width="1.1"/>
<text x="434.04" y="358.50" font-size="6.6" text-anchor="middle" textLength="7.0" lengthAdjust="spacingAndGlyphs" fill="#222">40</text>
<line x1="448.76" y1="346.50" x2="448.76" y2="349.10" stroke="#111" stroke-width="1.1"/>
<text x="448.76" y="358.50" font-size="6.6" text-anchor="middle" textLength="7.0" lengthAdjust="spacingAndGlyphs" fill="#222">60</text>
<line x1="463.48" y1="346.50" x2="463.48" y2="349.10" stroke="#111" stroke-width="1.1"/>
<text x="463.48" y="358.50" font-size="6.6" text-anchor="middle" textLength="7.0" lengthAdjust="spacingAndGlyphs" fill="#222">80</text>
<line x1="478.20" y1="346.50" x2="478.20" y2="349.10" stroke="#111" stroke-width="1.1"/>
<text x="478.20" y="358.50" font-size="6.6" text-anchor="middle" textLength="11.0" lengthAdjust="spacingAndGlyphs" fill="#222">100</text>
<text x="443.20" y="370.90" font-size="8.4" text-anchor="middle" textLength="60.5" lengthAdjust="spacingAndGlyphs" fill="#222">Hours after cytokine</text>
<text x="443.20" y="381.10" font-size="8.4" text-anchor="middle" textLength="34" lengthAdjust="spacingAndGlyphs" fill="#222">withdrawal</text>
<text transform="translate(382.20,302.5) rotate(-90)" x="0" y="0" font-size="6.9" text-anchor="middle" fill="#222" textLength="80.5" lengthAdjust="spacingAndGlyphs">%variant in mixed culture</text>
<text x="445" y="266.3" font-size="6.8" text-anchor="middle" textLength="44" lengthAdjust="spacingAndGlyphs" fill="#5aa6e0">H499G+V501S</text>
<text x="445" y="274.7" font-size="6.8" text-anchor="middle" textLength="30" lengthAdjust="spacingAndGlyphs" fill="#5aa6e0">(mCherry)</text>
<text x="444.5" y="305.4" font-size="6.8" text-anchor="middle" fill="#111">Vs.</text>
<text x="445" y="340" font-size="6.8" text-anchor="middle" textLength="38" lengthAdjust="spacingAndGlyphs" fill="#5ea63c">V501S (GFP)</text>
<rect x="7.0" y="433.6" width="494.4" height="30.6" fill="#000"/>
<rect x="7.0" y="464.20" width="494.4" height="18.43" fill="#e4e4e4"/>
<rect x="7.0" y="501.06" width="494.4" height="18.43" fill="#e4e4e4"/>
<rect x="7.0" y="537.92" width="494.4" height="18.43" fill="#e4e4e4"/>
<rect x="7.0" y="574.78" width="494.4" height="18.43" fill="#e4e4e4"/>
<rect x="7.0" y="611.64" width="494.4" height="18.43" fill="#e4e4e4"/>
<rect x="7.0" y="628.9" width="494.4" height="2.4" fill="#000"/>
<text x="36.2" y="446.1" font-size="8.4" text-anchor="middle" font-weight="bold" textLength="40" lengthAdjust="spacingAndGlyphs" fill="#fff">Age (y) at</text>
<text x="36.2" y="456.4" font-size="8.4" text-anchor="middle" font-weight="bold" textLength="38.5" lengthAdjust="spacingAndGlyphs" fill="#fff">Diagnosis</text>
<text x="94.4" y="446.1" font-size="8.4" text-anchor="middle" font-weight="bold" textLength="29.8" lengthAdjust="spacingAndGlyphs" fill="#fff">Gender</text>
<text x="94.4" y="456.4" font-size="8.4" text-anchor="middle" font-weight="bold" textLength="22.2" lengthAdjust="spacingAndGlyphs" fill="#fff">(M/F)</text>
<text x="149.6" y="446.1" font-size="8.4" text-anchor="middle" font-weight="bold" textLength="22.4" lengthAdjust="spacingAndGlyphs" fill="#fff">WHO</text>
<text x="149.6" y="456.4" font-size="8.4" text-anchor="middle" font-weight="bold" textLength="39.9" lengthAdjust="spacingAndGlyphs" fill="#fff">Diagnosis</text>
<text x="258.4" y="451.3" font-size="8.5" text-anchor="middle" font-weight="bold" textLength="103.8" lengthAdjust="spacingAndGlyphs" fill="#fff">MPL Exon 10 Mutation(s)</text>
<text x="374.4" y="451.3" font-size="8.5" text-anchor="middle" font-weight="bold" textLength="32.7" lengthAdjust="spacingAndGlyphs" fill="#fff">VAF (%)</text>
<text x="459.8" y="446.1" font-size="8.4" text-anchor="middle" font-weight="bold" textLength="50" lengthAdjust="spacingAndGlyphs" fill="#fff">PLT count at</text>
<text x="459.8" y="456.4" font-size="8.4" text-anchor="middle" font-weight="bold" textLength="40.2" lengthAdjust="spacingAndGlyphs" fill="#fff">Diagnosis</text>
<text x="36" y="476.41" font-size="8.6" text-anchor="middle" fill="#222">62</text>
<text x="93.2" y="476.41" font-size="8.6" text-anchor="middle" fill="#222">F</text>
<text x="153.6" y="476.41" font-size="8.6" text-anchor="middle" fill="#222">Post-ET MF</text>
<text x="258.7" y="476.41" font-size="8.6" text-anchor="middle" fill="#222">S505N<tspan font-size="4.9" dy="-3.3">Som</tspan><tspan dy="3.3">+T487A</tspan><tspan font-size="4.9" dy="-3.3">Som</tspan></text>
<text x="374" y="476.41" font-size="8.6" text-anchor="middle" fill="#222">29, 14</text>
<text x="460" y="476.41" font-size="8.6" text-anchor="middle" fill="#222">ND</text>
<text x="36" y="494.84" font-size="8.6" text-anchor="middle" fill="#222">77</text>
<text x="93.2" y="494.84" font-size="8.6" text-anchor="middle" fill="#222">M</text>
<text x="153.6" y="494.84" font-size="8.6" text-anchor="middle" fill="#222">ET</text>
<text x="258.7" y="494.84" font-size="8.6" text-anchor="middle" fill="#222">S505N<tspan font-size="4.9" dy="-3.3">Som</tspan><tspan dy="3.3">+S493C</tspan><tspan font-size="4.9" dy="-3.3">Som</tspan></text>
<text x="374" y="494.84" font-size="8.6" text-anchor="middle" fill="#222">21, 20</text>
<text x="460" y="494.84" font-size="8.6" text-anchor="middle" fill="#222">654</text>
<text x="36" y="513.27" font-size="8.6" text-anchor="middle" fill="#222">61</text>
<text x="93.2" y="513.27" font-size="8.6" text-anchor="middle" fill="#222">M</text>
<text x="153.6" y="513.27" font-size="8.6" text-anchor="middle" fill="#222">ET</text>
<text x="258.7" y="513.27" font-size="8.6" text-anchor="middle" fill="#222">S505N<tspan font-size="4.9" dy="-3.3">Ger</tspan><tspan dy="3.3">+V501M</tspan><tspan font-size="4.9" dy="-3.3">Som</tspan></text>
<text x="374" y="513.27" font-size="8.6" text-anchor="middle" fill="#222">50, 6</text>
<text x="460" y="513.27" font-size="8.6" text-anchor="middle" fill="#222">ND</text>
<text x="36" y="531.71" font-size="8.6" text-anchor="middle" fill="#222">62</text>
<text x="93.2" y="531.71" font-size="8.6" text-anchor="middle" fill="#222">M</text>
<text x="153.6" y="531.71" font-size="8.6" text-anchor="middle" fill="#222">Post-ET MF</text>
<text x="258.7" y="531.71" font-size="8.6" text-anchor="middle" fill="#222">S505N<tspan font-size="4.9" dy="-3.3">Som</tspan><tspan dy="3.3">+V501A</tspan><tspan font-size="4.9" dy="-3.3">Som</tspan></text>
<text x="374" y="531.71" font-size="8.6" text-anchor="middle" fill="#222">50<tspan font-size="4.5" dy="-3">‡</tspan></text>
<text x="460" y="531.71" font-size="8.6" text-anchor="middle" fill="#222">676</text>
<text x="36" y="550.13" font-size="8.6" text-anchor="middle" fill="#222">62</text>
<text x="93.2" y="550.13" font-size="8.6" text-anchor="middle" fill="#222">F</text>
<text x="153.6" y="550.13" font-size="8.6" text-anchor="middle" fill="#222">Post-ET MF</text>
<text x="258.7" y="550.13" font-size="8.6" text-anchor="middle" fill="#222">S505N<tspan font-size="4.9" dy="-3.3">Ger</tspan><tspan dy="3.3">+Q516R</tspan><tspan font-size="4.9" dy="-3.3">Som</tspan></text>
<text x="374" y="550.13" font-size="8.6" text-anchor="middle" fill="#222">55, 24</text>
<text x="460" y="550.13" font-size="8.6" text-anchor="middle" fill="#222">1000</text>
<text x="36" y="568.57" font-size="8.6" text-anchor="middle" fill="#222">86</text>
<text x="93.2" y="568.57" font-size="8.6" text-anchor="middle" fill="#222">M</text>
<text x="153.6" y="568.57" font-size="8.6" text-anchor="middle" fill="#222">ET</text>
<text x="259.5" y="568.57" font-size="8.6" text-anchor="middle" fill="#222" textLength="97" lengthAdjust="spacingAndGlyphs">S505N+V501M+A506V*</text>
<text x="374" y="568.57" font-size="8.6" text-anchor="middle" fill="#222">66, 40, 20</text>
<text x="460" y="568.57" font-size="8.6" text-anchor="middle" fill="#222">ND</text>
<text x="36" y="587.00" font-size="8.6" text-anchor="middle" fill="#222">57</text>
<text x="93.2" y="587.00" font-size="8.6" text-anchor="middle" fill="#222">F</text>
<text x="153.6" y="587.00" font-size="8.6" text-anchor="middle" fill="#222">ET</text>
<text x="258.7" y="587.00" font-size="8.6" text-anchor="middle" fill="#222">W515L<tspan font-size="4.9" dy="-3.3">Som</tspan><tspan dy="3.3">+S505C</tspan></text>
<text x="374" y="587.00" font-size="8.6" text-anchor="middle" fill="#222">25, 50</text>
<text x="460" y="587.00" font-size="8.6" text-anchor="middle" fill="#222">ND</text>
<text x="36" y="605.43" font-size="8.6" text-anchor="middle" fill="#222">56</text>
<text x="93.2" y="605.43" font-size="8.6" text-anchor="middle" fill="#222">M</text>
<text x="153.6" y="605.43" font-size="8.6" text-anchor="middle" fill="#222">ET</text>
<text x="258.7" y="605.43" font-size="8.6" text-anchor="middle" fill="#222">W515L<tspan font-size="4.9" dy="-3.3">Som</tspan><tspan dy="3.3">+V501A</tspan></text>
<text x="374" y="605.43" font-size="8.6" text-anchor="middle" fill="#222">25, 50</text>
<text x="460" y="605.43" font-size="8.6" text-anchor="middle" fill="#222">800</text>
<text x="36" y="623.86" font-size="8.6" text-anchor="middle" fill="#222">80</text>
<text x="93.2" y="623.86" font-size="8.6" text-anchor="middle" fill="#222">F</text>
<text x="153.6" y="623.86" font-size="8.6" text-anchor="middle" fill="#222">ET</text>
<text x="258.7" y="623.86" font-size="8.6" text-anchor="middle" fill="#222">W515R<tspan font-size="4.9" dy="-3.3">Som</tspan><tspan dy="3.3">+V501A</tspan></text>
<text x="374" y="623.86" font-size="8.6" text-anchor="middle" fill="#222">20, 40</text>
<text x="460" y="623.86" font-size="8.6" text-anchor="middle" fill="#222">ND</text>
<rect x="0.5" y="0.5" width="519" height="636" fill="none" stroke="#000" stroke-width="1.2"/></svg></body></html>
